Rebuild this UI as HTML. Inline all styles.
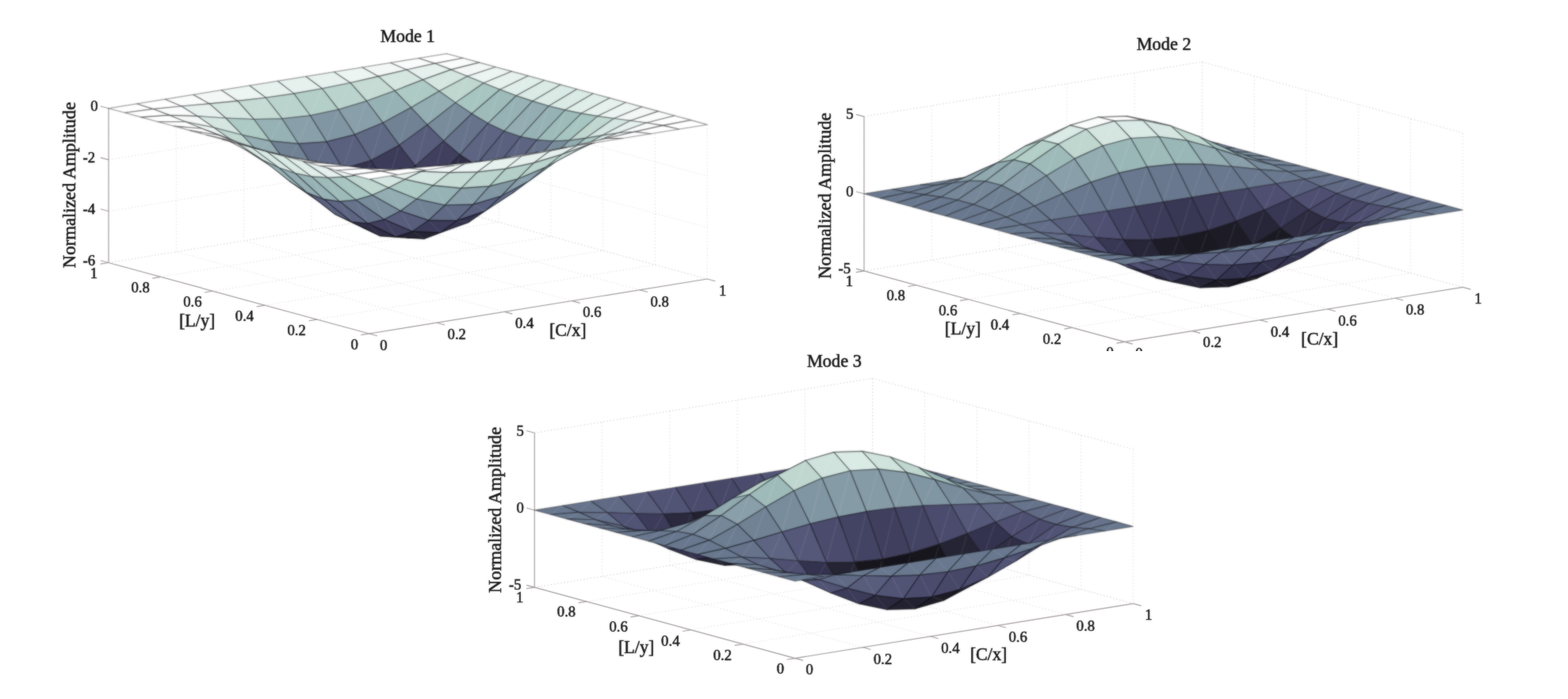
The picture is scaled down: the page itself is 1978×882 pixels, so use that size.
<!DOCTYPE html>
<html><head><meta charset="utf-8"><title>Mode shapes</title>
<style>
html,body{margin:0;padding:0;background:#fff;}
svg{display:block;}

text{font-family:"Liberation Serif",serif;fill:#151515;stroke:#151515;stroke-width:0.55px;}
.t{font-size:18.7px;}
.l{font-size:22.8px;}
.ti{font-size:22.4px;}
.sans{font-size:22.2px;}
.g{stroke:#dfd7d7;stroke-width:1;stroke-dasharray:1.2 3;fill:none;}
.a{stroke:#a39d9d;stroke-width:1.15;fill:none;}
.s path{stroke-width:1.15;stroke-linejoin:round;stroke-opacity:0.44;}
.s path.m{stroke:#fff;stroke-opacity:0.11;stroke-width:1;fill:none;}
</style></head>
<body>
<svg width="1978" height="882" viewBox="0 0 1978 882">
<defs>
<filter id="bg" x="-5%" y="-5%" width="110%" height="110%" color-interpolation-filters="sRGB"><feGaussianBlur stdDeviation="0.8" result="b"/><feComposite in="b" in2="SourceGraphic" operator="arithmetic" k1="0" k2="0.62" k3="0.38" k4="0"/></filter>
<filter id="bt" x="-5%" y="-5%" width="110%" height="110%" color-interpolation-filters="sRGB"><feGaussianBlur stdDeviation="0.8" result="b"/><feComposite in="b" in2="SourceGraphic" operator="arithmetic" k1="0" k2="0.4" k3="0.6" k4="0"/></filter>
<clipPath id="clip2"><rect x="0" y="0" width="1978" height="442.3"/></clipPath></defs>
<rect width="1978" height="882" fill="#fff"/>
<g><g filter="url(#bt)"><g><line class="g" x1="465.7" y1="421" x2="137" y2="331.5"/><line class="g" x1="465.7" y1="421" x2="892.2" y2="352"/><line class="g" x1="137" y1="331.5" x2="137" y2="136.7"/><line class="g" x1="892.2" y1="352" x2="892.2" y2="157.2"/><line class="g" x1="551" y1="407.2" x2="222.3" y2="317.7"/><line class="g" x1="399.96" y1="403.1" x2="826.46" y2="334.1"/><line class="g" x1="222.3" y1="317.7" x2="222.3" y2="122.9"/><line class="g" x1="826.46" y1="334.1" x2="826.46" y2="139.3"/><line class="g" x1="636.3" y1="393.4" x2="307.6" y2="303.9"/><line class="g" x1="334.22" y1="385.2" x2="760.72" y2="316.2"/><line class="g" x1="307.6" y1="303.9" x2="307.6" y2="109.1"/><line class="g" x1="760.72" y1="316.2" x2="760.72" y2="121.4"/><line class="g" x1="721.6" y1="379.6" x2="392.9" y2="290.1"/><line class="g" x1="268.48" y1="367.3" x2="694.98" y2="298.3"/><line class="g" x1="392.9" y1="290.1" x2="392.9" y2="95.3"/><line class="g" x1="694.98" y1="298.3" x2="694.98" y2="103.5"/><line class="g" x1="806.9" y1="365.8" x2="478.2" y2="276.3"/><line class="g" x1="202.74" y1="349.4" x2="629.24" y2="280.4"/><line class="g" x1="478.2" y1="276.3" x2="478.2" y2="81.5"/><line class="g" x1="629.24" y1="280.4" x2="629.24" y2="85.6"/><line class="g" x1="892.2" y1="352" x2="563.5" y2="262.5"/><line class="g" x1="137" y1="331.5" x2="563.5" y2="262.5"/><line class="g" x1="563.5" y1="262.5" x2="563.5" y2="67.7"/><line class="g" x1="563.5" y1="262.5" x2="563.5" y2="67.7"/><line class="g" x1="137" y1="331.5" x2="563.5" y2="262.5"/><line class="g" x1="563.5" y1="262.5" x2="892.2" y2="352"/><line class="g" x1="137" y1="266.57" x2="563.5" y2="197.57"/><line class="g" x1="563.5" y1="197.57" x2="892.2" y2="287.07"/><line class="g" x1="137" y1="201.63" x2="563.5" y2="132.63"/><line class="g" x1="563.5" y1="132.63" x2="892.2" y2="222.13"/><line class="g" x1="137" y1="136.7" x2="563.5" y2="67.7"/><line class="g" x1="563.5" y1="67.7" x2="892.2" y2="157.2"/><line class="g" x1="137" y1="136.7" x2="563.5" y2="67.7"/><line class="g" x1="563.5" y1="67.7" x2="892.2" y2="157.2"/></g>
<g><line class="a" x1="137" y1="331.5" x2="137" y2="136.7"/><line class="a" x1="137" y1="331.5" x2="465.7" y2="421"/><line class="a" x1="465.7" y1="421" x2="892.2" y2="352"/><line class="a" x1="465.7" y1="421" x2="475.83" y2="423.76"/><line class="a" x1="465.7" y1="421" x2="455.33" y2="422.68"/><line class="a" x1="551" y1="407.2" x2="561.13" y2="409.96"/><line class="a" x1="399.96" y1="403.1" x2="389.59" y2="404.78"/><line class="a" x1="636.3" y1="393.4" x2="646.43" y2="396.16"/><line class="a" x1="334.22" y1="385.2" x2="323.85" y2="386.88"/><line class="a" x1="721.6" y1="379.6" x2="731.73" y2="382.36"/><line class="a" x1="268.48" y1="367.3" x2="258.11" y2="368.98"/><line class="a" x1="806.9" y1="365.8" x2="817.03" y2="368.56"/><line class="a" x1="202.74" y1="349.4" x2="192.37" y2="351.08"/><line class="a" x1="892.2" y1="352" x2="902.33" y2="354.76"/><line class="a" x1="137" y1="331.5" x2="126.63" y2="333.18"/><line class="a" x1="137" y1="331.5" x2="126.87" y2="328.74"/><line class="a" x1="137" y1="266.57" x2="126.87" y2="263.81"/><line class="a" x1="137" y1="201.63" x2="126.87" y2="198.87"/><line class="a" x1="137" y1="136.7" x2="126.87" y2="133.94"/></g></g>
<g filter="url(#bg)"><g class="s" stroke="#050508"><path fill="#ffffff" d="M548.5 80.08L584.04 73.29L563.5 67.7L527.96 73.45Z"/><path class="m" d="M549.4 79.34L562.6 68.44"/><path fill="#f9fcfb" d="M512.96 88.05L548.5 80.08L527.96 73.45L492.42 79.2Z"/><path class="m" d="M513.86 87.18L527.06 74.33"/><path fill="#f3f8f6" d="M477.42 96.38L512.96 88.05L492.42 79.2L456.88 84.95Z"/><path class="m" d="M478.32 95.35L491.52 80.23"/><path fill="#ecf5f2" d="M441.88 104.44L477.42 96.38L456.88 84.95L421.33 90.7Z"/><path class="m" d="M442.78 103.27L455.98 86.12"/><path fill="#e6f1ee" d="M406.34 111.77L441.88 104.44L421.33 90.7L385.79 96.45Z"/><path class="m" d="M407.24 110.5L420.43 91.96"/><path fill="#e6f1ee" d="M370.79 118.08L406.34 111.77L385.79 96.45L350.25 102.2Z"/><path class="m" d="M371.69 116.78L384.89 97.75"/><path fill="#e6f1ee" d="M335.25 123.27L370.79 118.08L350.25 102.2L314.71 107.95Z"/><path class="m" d="M336.15 122L349.35 103.46"/><path fill="#ecf5f2" d="M299.71 127.44L335.25 123.27L314.71 107.95L279.17 113.7Z"/><path class="m" d="M300.61 126.27L313.81 109.12"/><path fill="#f3f8f6" d="M264.17 130.88L299.71 127.44L279.17 113.7L243.63 119.45Z"/><path class="m" d="M265.07 129.85L278.27 114.73"/><path fill="#f9fcfb" d="M228.63 134.05L264.17 130.88L243.63 119.45L208.08 125.2Z"/><path class="m" d="M229.53 133.18L242.73 120.33"/><path fill="#ffffff" d="M193.09 137.58L228.63 134.05L208.08 125.2L172.54 130.95Z"/><path class="m" d="M193.99 136.84L207.18 125.94"/><path fill="#ffffff" d="M157.54 142.29L193.09 137.58L172.54 130.95L137 136.7Z"/><path class="m" d="M158.44 141.61L171.64 131.63"/><path fill="#f9fcfb" d="M569.05 87.91L604.59 78.89L584.04 73.29L548.5 80.08Z"/><path class="m" d="M569.95 87.03L583.14 74.17"/><path fill="#e6f1ee" d="M533.5 100.64L569.05 87.91L548.5 80.08L512.96 88.05Z"/><path class="m" d="M534.4 99.41L547.6 81.32"/><path fill="#d5e6e1" d="M497.96 114.48L533.5 100.64L512.96 88.05L477.42 96.38Z"/><path class="m" d="M498.86 112.9L512.06 89.64"/><path fill="#c5dbd4" d="M462.42 127.5L497.96 114.48L477.42 96.38L441.88 104.44Z"/><path class="m" d="M463.32 125.63L476.52 98.24"/><path fill="#bad3cc" d="M426.88 138.22L462.42 127.5L441.88 104.44L406.34 111.77Z"/><path class="m" d="M427.78 136.19L440.98 106.46"/><path fill="#b4cfc8" d="M391.34 145.73L426.88 138.22L406.34 111.77L370.79 118.08Z"/><path class="m" d="M392.24 143.69L405.44 113.8"/><path fill="#bad3cc" d="M355.8 149.72L391.34 145.73L370.79 118.08L335.25 123.27Z"/><path class="m" d="M356.7 147.82L369.89 119.98"/><path fill="#c5dbd4" d="M320.25 150.5L355.8 149.72L335.25 123.27L299.71 127.44Z"/><path class="m" d="M321.15 148.86L334.35 124.9"/><path fill="#d5e6e1" d="M284.71 148.98L320.25 150.5L299.71 127.44L264.17 130.88Z"/><path class="m" d="M285.61 147.69L298.81 128.73"/><path fill="#e6f1ee" d="M249.17 146.64L284.71 148.98L264.17 130.88L228.63 134.05Z"/><path class="m" d="M250.07 145.69L263.27 131.82"/><path fill="#f9fcfb" d="M213.63 145.41L249.17 146.64L228.63 134.05L193.09 137.58Z"/><path class="m" d="M214.53 144.73L227.73 134.73"/><path fill="#ffffff" d="M178.09 147.89L213.63 145.41L193.09 137.58L157.54 142.29Z"/><path class="m" d="M178.99 147.27L192.19 138.2"/><path fill="#f3f8f6" d="M589.59 96.3L625.13 84.48L604.59 78.89L569.05 87.91Z"/><path class="m" d="M590.49 95.25L603.69 79.93"/><path fill="#d5e6e1" d="M554.05 114.97L589.59 96.3L569.05 87.91L533.5 100.64Z"/><path class="m" d="M554.95 113.34L568.15 89.54"/><path fill="#aecac4" d="M518.51 135.71L554.05 114.97L533.5 100.64L497.96 114.48Z"/><path class="m" d="M519.41 133.6L532.6 102.74"/><path fill="#97b2b5" d="M482.96 154.91L518.51 135.71L497.96 114.48L462.42 127.5Z"/><path class="m" d="M483.86 152.49L497.06 116.91"/><path fill="#899fa9" d="M447.42 169.87L482.96 154.91L462.42 127.5L426.88 138.22Z"/><path class="m" d="M448.32 167.33L461.52 130.04"/><path fill="#8196a3" d="M411.88 178.88L447.42 169.87L426.88 138.22L391.34 145.73Z"/><path class="m" d="M412.78 176.44L425.98 140.66"/><path fill="#899fa9" d="M376.34 181.37L411.88 178.88L391.34 145.73L355.8 149.72Z"/><path class="m" d="M377.24 179.23L390.44 147.87"/><path fill="#97b2b5" d="M340.8 177.91L376.34 181.37L355.8 149.72L320.25 150.5Z"/><path class="m" d="M341.7 176.22L354.9 151.41"/><path fill="#aecac4" d="M305.26 170.21L340.8 177.91L320.25 150.5L284.71 148.98Z"/><path class="m" d="M306.16 169.02L319.35 151.68"/><path fill="#d5e6e1" d="M269.71 160.97L305.26 170.21L284.71 148.98L249.17 146.64Z"/><path class="m" d="M270.61 160.25L283.81 149.7"/><path fill="#f3f8f6" d="M234.17 153.8L269.71 160.97L249.17 146.64L213.63 145.41Z"/><path class="m" d="M235.07 153.37L248.27 147.07"/><path fill="#ffffff" d="M198.63 153.48L234.17 153.8L213.63 145.41L178.09 147.89Z"/><path class="m" d="M199.53 153L212.73 145.9"/><path fill="#ecf5f2" d="M610.13 104.79L645.68 90.08L625.13 84.48L589.59 96.3Z"/><path class="m" d="M611.03 103.57L624.23 85.7"/><path fill="#c0d7d0" d="M574.59 129.63L610.13 104.79L589.59 96.3L554.05 114.97Z"/><path class="m" d="M575.49 127.63L588.69 98.3"/><path fill="#93adb2" d="M539.05 157.53L574.59 129.63L554.05 114.97L518.51 135.71Z"/><path class="m" d="M539.95 154.98L553.15 117.52"/><path fill="#718295" d="M503.51 183.16L539.05 157.53L518.51 135.71L482.96 154.91Z"/><path class="m" d="M504.41 180.32L517.61 138.55"/><path fill="#606a85" d="M467.97 202.52L503.51 183.16L482.96 154.91L447.42 169.87Z"/><path class="m" d="M468.87 199.67L482.06 157.77"/><path fill="#5a617f" d="M432.43 213.1L467.97 202.52L447.42 169.87L411.88 178.88Z"/><path class="m" d="M433.32 210.5L446.52 172.46"/><path fill="#606a85" d="M396.88 214.02L432.43 213.1L411.88 178.88L376.34 181.37Z"/><path class="m" d="M397.78 211.91L410.98 180.99"/><path fill="#718295" d="M361.34 206.16L396.88 214.02L376.34 181.37L340.8 177.91Z"/><path class="m" d="M362.24 204.68L375.44 182.86"/><path fill="#93adb2" d="M325.8 192.03L361.34 206.16L340.8 177.91L305.26 170.21Z"/><path class="m" d="M326.7 191.19L339.9 178.76"/><path fill="#c0d7d0" d="M290.26 175.63L325.8 192.03L305.26 170.21L269.71 160.97Z"/><path class="m" d="M291.16 175.3L304.36 170.53"/><path fill="#ecf5f2" d="M254.72 162.29L290.26 175.63L269.71 160.97L234.17 153.8Z"/><path class="m" d="M255.62 162.21L268.81 161.05"/><path fill="#ffffff" d="M219.18 159.07L254.72 162.29L234.17 153.8L198.63 153.48Z"/><path class="m" d="M220.07 158.76L233.27 154.11"/><path fill="#e6f1ee" d="M630.68 113.02L666.22 95.67L645.68 90.08L610.13 104.79Z"/><path class="m" d="M631.58 111.65L644.78 91.45"/><path fill="#a7c5c1" d="M595.14 143.5L630.68 113.02L610.13 104.79L574.59 129.63Z"/><path class="m" d="M596.04 141.17L609.23 107.11"/><path fill="#798c9c" d="M559.59 177.93L595.14 143.5L574.59 129.63L539.05 157.53Z"/><path class="m" d="M560.49 175.03L573.69 132.53"/><path fill="#585d7c" d="M524.05 209.42L559.59 177.93L539.05 157.53L503.51 183.16Z"/><path class="m" d="M524.95 206.31L538.15 160.65"/><path fill="#3c3b59" d="M488.51 232.8L524.05 209.42L503.51 183.16L467.97 202.52Z"/><path class="m" d="M489.41 229.82L502.61 186.14"/><path fill="#34334f" d="M452.97 244.79L488.51 232.8L467.97 202.52L432.43 213.1Z"/><path class="m" d="M453.87 242.26L467.07 205.06"/><path fill="#3c3b59" d="M417.43 244.3L452.97 244.79L432.43 213.1L396.88 214.02Z"/><path class="m" d="M418.33 242.42L431.53 214.97"/><path fill="#585d7c" d="M381.89 232.42L417.43 244.3L396.88 214.02L361.34 206.16Z"/><path class="m" d="M382.79 231.32L395.98 215.13"/><path fill="#798c9c" d="M346.34 212.43L381.89 232.42L361.34 206.16L325.8 192.03Z"/><path class="m" d="M347.24 212.05L360.44 206.54"/><path fill="#a7c5c1" d="M310.8 189.5L346.34 212.43L325.8 192.03L290.26 175.63Z"/><path class="m" d="M311.7 189.65L324.9 191.88"/><path fill="#e6f1ee" d="M275.26 170.52L310.8 189.5L290.26 175.63L254.72 162.29Z"/><path class="m" d="M276.16 170.83L289.36 175.32"/><path fill="#ffffff" d="M239.72 164.67L275.26 170.52L254.72 162.29L219.18 159.07Z"/><path class="m" d="M240.62 164.53L253.82 162.43"/><path fill="#e0eee9" d="M651.22 120.72L686.76 101.26L666.22 95.67L630.68 113.02Z"/><path class="m" d="M652.12 119.21L665.32 97.17"/><path fill="#9ebbba" d="M615.68 155.66L651.22 120.72L630.68 113.02L595.14 143.5Z"/><path class="m" d="M616.58 153.1L629.78 115.58"/><path fill="#66738b" d="M580.14 195.29L615.68 155.66L595.14 143.5L559.59 177.93Z"/><path class="m" d="M581.04 192.18L594.24 146.6"/><path fill="#403f5e" d="M544.6 231.44L580.14 195.29L559.59 177.93L524.05 209.42Z"/><path class="m" d="M545.5 228.23L558.69 181.14"/><path fill="#252434" d="M509.05 258L544.6 231.44L524.05 209.42L488.51 232.8Z"/><path class="m" d="M509.95 255.09L523.15 212.34"/><path fill="#1d1c26" d="M473.51 271.13L509.05 258L488.51 232.8L452.97 244.79Z"/><path class="m" d="M474.41 268.83L487.61 235.1"/><path fill="#252434" d="M437.97 269.5L473.51 271.13L452.97 244.79L417.43 244.3Z"/><path class="m" d="M438.87 268.02L452.07 246.27"/><path fill="#403f5e" d="M402.43 254.44L437.97 269.5L417.43 244.3L381.89 232.42Z"/><path class="m" d="M403.33 253.83L416.53 244.91"/><path fill="#66738b" d="M366.89 229.79L402.43 254.44L381.89 232.42L346.34 212.43Z"/><path class="m" d="M367.79 229.95L380.99 232.27"/><path fill="#9ebbba" d="M331.35 201.66L366.89 229.79L346.34 212.43L310.8 189.5Z"/><path class="m" d="M332.25 202.31L345.44 211.78"/><path fill="#e0eee9" d="M295.8 178.22L331.35 201.66L310.8 189.5L275.26 170.52Z"/><path class="m" d="M296.7 178.89L309.9 188.82"/><path fill="#ffffff" d="M260.26 170.26L295.8 178.22L275.26 170.52L239.72 164.67Z"/><path class="m" d="M261.16 170.28L274.36 170.51"/><path fill="#daeae5" d="M671.76 127.66L707.31 106.86L686.76 101.26L651.22 120.72Z"/><path class="m" d="M672.66 126.07L685.86 102.85"/><path fill="#97b2b5" d="M636.22 165.47L671.76 127.66L651.22 120.72L615.68 155.66Z"/><path class="m" d="M637.12 162.79L650.32 123.4"/><path fill="#5d6582" d="M600.68 208.43L636.22 165.47L615.68 155.66L580.14 195.29Z"/><path class="m" d="M601.58 205.26L614.78 158.83"/><path fill="#2f2e46" d="M565.14 247.57L600.68 208.43L580.14 195.29L544.6 231.44Z"/><path class="m" d="M566.04 244.43L579.24 198.43"/><path fill="#17161d" d="M529.6 276.17L565.14 247.57L544.6 231.44L509.05 258Z"/><path class="m" d="M530.5 273.49L543.7 234.13"/><path fill="#0b0b13" d="M494.06 290.02L529.6 276.17L509.05 258L473.51 271.13Z"/><path class="m" d="M494.96 288.1L508.15 259.92"/><path fill="#17161d" d="M458.51 287.67L494.06 290.02L473.51 271.13L437.97 269.5Z"/><path class="m" d="M459.41 286.68L472.61 272.12"/><path fill="#2f2e46" d="M422.97 270.57L458.51 287.67L437.97 269.5L402.43 254.44Z"/><path class="m" d="M423.87 270.5L437.07 269.57"/><path fill="#5d6582" d="M387.43 242.93L422.97 270.57L402.43 254.44L366.89 229.79Z"/><path class="m" d="M388.33 243.62L401.53 253.75"/><path fill="#97b2b5" d="M351.89 211.47L387.43 242.93L366.89 229.79L331.35 201.66Z"/><path class="m" d="M352.79 212.57L365.99 228.69"/><path fill="#daeae5" d="M316.35 185.16L351.89 211.47L331.35 201.66L295.8 178.22Z"/><path class="m" d="M317.25 186.15L330.45 200.67"/><path fill="#ffffff" d="M280.81 175.86L316.35 185.16L295.8 178.22L260.26 170.26Z"/><path class="m" d="M281.71 176L294.9 178.08"/><path fill="#daeae5" d="M692.31 133.71L727.85 112.45L707.31 106.86L671.76 127.66Z"/><path class="m" d="M693.21 132.1L706.41 108.47"/><path fill="#93adb2" d="M656.77 172.52L692.31 133.71L671.76 127.66L636.22 165.47Z"/><path class="m" d="M657.67 169.82L670.86 130.35"/><path fill="#5a617f" d="M621.23 216.62L656.77 172.52L636.22 165.47L600.68 208.43Z"/><path class="m" d="M622.12 213.55L635.32 168.54"/><path fill="#2d2c41" d="M585.68 256.78L621.23 216.62L600.68 208.43L565.14 247.57Z"/><path class="m" d="M586.58 253.88L599.78 211.33"/><path fill="#111118" d="M550.14 286.09L585.68 256.78L565.14 247.57L529.6 276.17Z"/><path class="m" d="M551.04 283.78L564.24 249.88"/><path fill="#080810" d="M514.6 300.19L550.14 286.09L529.6 276.17L494.06 290.02Z"/><path class="m" d="M515.5 298.75L528.7 277.61"/><path fill="#111118" d="M479.06 297.59L514.6 300.19L494.06 290.02L458.51 287.67Z"/><path class="m" d="M479.96 297.14L493.16 290.48"/><path fill="#2d2c41" d="M443.52 279.78L479.06 297.59L458.51 287.67L422.97 270.57Z"/><path class="m" d="M444.42 280.26L457.61 287.2"/><path fill="#5a617f" d="M407.98 251.12L443.52 279.78L422.97 270.57L387.43 242.93Z"/><path class="m" d="M408.87 252.28L422.07 269.4"/><path fill="#93adb2" d="M372.43 218.52L407.98 251.12L387.43 242.93L351.89 211.47Z"/><path class="m" d="M373.33 219.98L386.53 241.46"/><path fill="#daeae5" d="M336.89 191.21L372.43 218.52L351.89 211.47L316.35 185.16Z"/><path class="m" d="M337.79 192.43L350.99 210.26"/><path fill="#ffffff" d="M301.35 181.45L336.89 191.21L316.35 185.16L280.81 175.86Z"/><path class="m" d="M302.25 181.67L315.45 184.93"/><path fill="#daeae5" d="M712.85 138.84L748.39 118.04L727.85 112.45L692.31 133.71Z"/><path class="m" d="M713.75 137.26L726.95 114.03"/><path fill="#97b2b5" d="M677.31 176.66L712.85 138.84L692.31 133.71L656.77 172.52Z"/><path class="m" d="M678.21 174.08L691.41 136.29"/><path fill="#5d6582" d="M641.77 219.61L677.31 176.66L656.77 172.52L621.23 216.62Z"/><path class="m" d="M642.67 216.79L655.87 175.34"/><path fill="#2f2e46" d="M606.23 258.75L641.77 219.61L621.23 216.62L585.68 256.78Z"/><path class="m" d="M607.13 256.23L620.33 219.14"/><path fill="#17161d" d="M570.69 287.36L606.23 258.75L585.68 256.78L550.14 286.09Z"/><path class="m" d="M571.59 285.53L584.78 258.62"/><path fill="#0b0b13" d="M535.14 301.21L570.69 287.36L550.14 286.09L514.6 300.19Z"/><path class="m" d="M536.04 300.3L549.24 287"/><path fill="#17161d" d="M499.6 298.86L535.14 301.21L514.6 300.19L479.06 297.59Z"/><path class="m" d="M500.5 298.94L513.7 300.11"/><path fill="#2f2e46" d="M464.06 281.75L499.6 298.86L479.06 297.59L443.52 279.78Z"/><path class="m" d="M464.96 282.7L478.16 296.64"/><path fill="#5d6582" d="M428.52 254.11L464.06 281.75L443.52 279.78L407.98 251.12Z"/><path class="m" d="M429.42 255.65L442.62 278.24"/><path fill="#97b2b5" d="M392.98 222.66L428.52 254.11L407.98 251.12L372.43 218.52Z"/><path class="m" d="M393.88 224.37L407.08 249.41"/><path fill="#daeae5" d="M357.44 196.34L392.98 222.66L372.43 218.52L336.89 191.21Z"/><path class="m" d="M358.34 197.67L371.53 217.19"/><path fill="#ffffff" d="M321.89 187.04L357.44 196.34L336.89 191.21L301.35 181.45Z"/><path class="m" d="M322.79 187.29L335.99 190.96"/><path fill="#e0eee9" d="M733.4 143.09L768.94 123.64L748.39 118.04L712.85 138.84Z"/><path class="m" d="M734.3 141.59L747.49 119.55"/><path fill="#9ebbba" d="M697.85 178.04L733.4 143.09L712.85 138.84L677.31 176.66Z"/><path class="m" d="M698.75 175.69L711.95 141.2"/><path fill="#66738b" d="M662.31 217.66L697.85 178.04L677.31 176.66L641.77 219.61Z"/><path class="m" d="M663.21 215.2L676.41 179.12"/><path fill="#403f5e" d="M626.77 253.82L662.31 217.66L641.77 219.61L606.23 258.75Z"/><path class="m" d="M627.67 251.77L640.87 221.67"/><path fill="#252434" d="M591.23 280.38L626.77 253.82L606.23 258.75L570.69 287.36Z"/><path class="m" d="M592.13 279.08L605.33 260.05"/><path fill="#1d1c26" d="M555.69 293.5L591.23 280.38L570.69 287.36L535.14 301.21Z"/><path class="m" d="M556.59 293.13L569.79 287.73"/><path fill="#252434" d="M520.15 291.88L555.69 293.5L535.14 301.21L499.6 298.86Z"/><path class="m" d="M521.05 292.44L534.24 300.65"/><path fill="#403f5e" d="M484.6 276.82L520.15 291.88L499.6 298.86L464.06 281.75Z"/><path class="m" d="M485.5 278.14L498.7 297.54"/><path fill="#66738b" d="M449.06 252.16L484.6 276.82L464.06 281.75L428.52 254.11Z"/><path class="m" d="M449.96 253.94L463.16 279.98"/><path fill="#9ebbba" d="M413.52 224.04L449.06 252.16L428.52 254.11L392.98 222.66Z"/><path class="m" d="M414.42 225.84L427.62 252.31"/><path fill="#e0eee9" d="M377.98 200.59L413.52 224.04L392.98 222.66L357.44 196.34Z"/><path class="m" d="M378.88 201.92L392.08 221.34"/><path fill="#ffffff" d="M342.44 192.64L377.98 200.59L357.44 196.34L321.89 187.04Z"/><path class="m" d="M343.34 192.86L356.54 196.12"/><path fill="#e6f1ee" d="M753.94 146.59L789.48 129.23L768.94 123.64L733.4 143.09Z"/><path class="m" d="M754.84 145.21L768.04 125.01"/><path fill="#a7c5c1" d="M718.4 177.06L753.94 146.59L733.4 143.09L697.85 178.04Z"/><path class="m" d="M719.3 175.02L732.5 145.13"/><path fill="#798c9c" d="M682.86 211.49L718.4 177.06L697.85 178.04L662.31 217.66Z"/><path class="m" d="M683.76 209.49L696.95 180.05"/><path fill="#585d7c" d="M647.31 242.99L682.86 211.49L662.31 217.66L626.77 253.82Z"/><path class="m" d="M648.21 241.47L661.41 219.18"/><path fill="#3c3b59" d="M611.77 266.36L647.31 242.99L626.77 253.82L591.23 280.38Z"/><path class="m" d="M612.67 265.61L625.87 254.57"/><path fill="#34334f" d="M576.23 278.35L611.77 266.36L591.23 280.38L555.69 293.5Z"/><path class="m" d="M577.13 278.48L590.33 280.26"/><path fill="#3c3b59" d="M540.69 277.86L576.23 278.35L555.69 293.5L520.15 291.88Z"/><path class="m" d="M541.59 278.8L554.79 292.56"/><path fill="#585d7c" d="M505.15 265.99L540.69 277.86L520.15 291.88L484.6 276.82Z"/><path class="m" d="M506.05 267.54L519.25 290.32"/><path fill="#798c9c" d="M469.61 245.99L505.15 265.99L484.6 276.82L449.06 252.16Z"/><path class="m" d="M470.51 247.84L483.7 274.97"/><path fill="#a7c5c1" d="M434.06 223.06L469.61 245.99L449.06 252.16L413.52 224.04Z"/><path class="m" d="M434.96 224.8L448.16 250.42"/><path fill="#e6f1ee" d="M398.52 204.09L434.06 223.06L413.52 224.04L377.98 200.59Z"/><path class="m" d="M399.42 205.28L412.62 222.84"/><path fill="#ffffff" d="M362.98 198.23L398.52 204.09L377.98 200.59L342.44 192.64Z"/><path class="m" d="M363.88 198.37L377.08 200.45"/><path fill="#ecf5f2" d="M774.48 149.54L810.03 134.83L789.48 129.23L753.94 146.59Z"/><path class="m" d="M775.38 148.32L788.58 130.45"/><path fill="#c0d7d0" d="M738.94 174.38L774.48 149.54L753.94 146.59L718.4 177.06Z"/><path class="m" d="M739.84 172.71L753.04 148.25"/><path fill="#93adb2" d="M703.4 202.28L738.94 174.38L718.4 177.06L682.86 211.49Z"/><path class="m" d="M704.3 200.77L717.5 178.57"/><path fill="#718295" d="M667.86 227.91L703.4 202.28L682.86 211.49L647.31 242.99Z"/><path class="m" d="M668.76 226.93L681.96 212.48"/><path fill="#606a85" d="M632.32 247.27L667.86 227.91L647.31 242.99L611.77 266.36Z"/><path class="m" d="M633.22 247.02L646.41 243.24"/><path fill="#5a617f" d="M596.78 257.85L632.32 247.27L611.77 266.36L576.23 278.35Z"/><path class="m" d="M597.67 258.36L610.87 265.85"/><path fill="#606a85" d="M561.23 258.77L596.78 257.85L576.23 278.35L540.69 277.86Z"/><path class="m" d="M562.13 259.95L575.33 277.18"/><path fill="#718295" d="M525.69 250.91L561.23 258.77L540.69 277.86L505.15 265.99Z"/><path class="m" d="M526.59 252.53L539.79 276.24"/><path fill="#93adb2" d="M490.15 236.78L525.69 250.91L505.15 265.99L469.61 245.99Z"/><path class="m" d="M491.05 238.54L504.25 264.23"/><path fill="#c0d7d0" d="M454.61 220.38L490.15 236.78L469.61 245.99L434.06 223.06Z"/><path class="m" d="M455.51 221.92L468.71 244.46"/><path fill="#ecf5f2" d="M419.07 207.04L454.61 220.38L434.06 223.06L398.52 204.09Z"/><path class="m" d="M419.97 208L433.16 222.1"/><path fill="#ffffff" d="M383.52 203.82L419.07 207.04L398.52 204.09L362.98 198.23Z"/><path class="m" d="M384.42 203.84L397.62 204.07"/><path fill="#f3f8f6" d="M795.03 152.23L830.57 140.42L810.03 134.83L774.48 149.54Z"/><path class="m" d="M795.93 151.19L809.13 135.87"/><path fill="#d5e6e1" d="M759.49 170.9L795.03 152.23L774.48 149.54L738.94 174.38Z"/><path class="m" d="M760.39 169.62L773.58 150.82"/><path fill="#aecac4" d="M723.94 191.64L759.49 170.9L738.94 174.38L703.4 202.28Z"/><path class="m" d="M724.84 190.61L738.04 175.42"/><path fill="#97b2b5" d="M688.4 210.85L723.94 191.64L703.4 202.28L667.86 227.91Z"/><path class="m" d="M689.3 210.33L702.5 202.8"/><path fill="#899fa9" d="M652.86 225.81L688.4 210.85L667.86 227.91L632.32 247.27Z"/><path class="m" d="M653.76 225.93L666.96 227.79"/><path fill="#8196a3" d="M617.32 234.82L652.86 225.81L632.32 247.27L596.78 257.85Z"/><path class="m" d="M618.22 235.57L631.42 246.53"/><path fill="#899fa9" d="M581.78 237.31L617.32 234.82L596.78 257.85L561.23 258.77Z"/><path class="m" d="M582.68 238.54L595.88 256.61"/><path fill="#97b2b5" d="M546.24 233.85L581.78 237.31L561.23 258.77L525.69 250.91Z"/><path class="m" d="M547.14 235.34L560.33 257.28"/><path fill="#aecac4" d="M510.69 226.14L546.24 233.85L525.69 250.91L490.15 236.78Z"/><path class="m" d="M511.59 227.63L524.79 249.43"/><path fill="#d5e6e1" d="M475.15 216.9L510.69 226.14L490.15 236.78L454.61 220.38Z"/><path class="m" d="M476.05 218.1L489.25 235.59"/><path fill="#f3f8f6" d="M439.61 209.73L475.15 216.9L454.61 220.38L419.07 207.04Z"/><path class="m" d="M440.51 210.37L453.71 219.74"/><path fill="#ffffff" d="M404.07 209.42L439.61 209.73L419.07 207.04L383.52 203.82Z"/><path class="m" d="M404.97 209.28L418.17 207.18"/><path fill="#f9fcfb" d="M815.57 155.04L851.11 146.01L830.57 140.42L795.03 152.23Z"/><path class="m" d="M816.47 154.16L829.67 141.3"/><path fill="#e6f1ee" d="M780.03 167.76L815.57 155.04L795.03 152.23L759.49 170.9Z"/><path class="m" d="M780.93 166.83L794.13 153.17"/><path fill="#d5e6e1" d="M744.49 181.61L780.03 167.76L759.49 170.9L723.94 191.64Z"/><path class="m" d="M745.39 180.97L758.59 171.55"/><path fill="#c5dbd4" d="M708.95 194.62L744.49 181.61L723.94 191.64L688.4 210.85Z"/><path class="m" d="M709.85 194.44L723.04 191.82"/><path fill="#bad3cc" d="M673.4 205.34L708.95 194.62L688.4 210.85L652.86 225.81Z"/><path class="m" d="M674.3 205.68L687.5 210.52"/><path fill="#b4cfc8" d="M637.86 212.86L673.4 205.34L652.86 225.81L617.32 234.82Z"/><path class="m" d="M638.76 213.63L651.96 225.03"/><path fill="#bad3cc" d="M602.32 216.84L637.86 212.86L617.32 234.82L581.78 237.31Z"/><path class="m" d="M603.22 217.92L616.42 233.74"/><path fill="#c5dbd4" d="M566.78 217.62L602.32 216.84L581.78 237.31L546.24 233.85Z"/><path class="m" d="M567.68 218.8L580.88 236.13"/><path fill="#d5e6e1" d="M531.24 216.11L566.78 217.62L546.24 233.85L510.69 226.14Z"/><path class="m" d="M532.14 217.17L545.34 232.78"/><path fill="#e6f1ee" d="M495.7 213.76L531.24 216.11L510.69 226.14L475.15 216.9Z"/><path class="m" d="M496.6 214.51L509.79 225.4"/><path fill="#f9fcfb" d="M460.15 212.54L495.7 213.76L475.15 216.9L439.61 209.73Z"/><path class="m" d="M461.05 212.8L474.25 216.64"/><path fill="#ffffff" d="M424.61 215.01L460.15 212.54L439.61 209.73L404.07 209.42Z"/><path class="m" d="M425.51 214.7L438.71 210.05"/><path fill="#ffffff" d="M836.11 158.4L871.66 151.61L851.11 146.01L815.57 155.04Z"/><path class="m" d="M837.01 157.65L850.21 146.76"/><path fill="#f9fcfb" d="M800.57 166.37L836.11 158.4L815.57 155.04L780.03 167.76Z"/><path class="m" d="M801.47 165.69L814.67 155.72"/><path fill="#f3f8f6" d="M765.03 174.69L800.57 166.37L780.03 167.76L744.49 181.61Z"/><path class="m" d="M765.93 174.27L779.13 168.18"/><path fill="#ecf5f2" d="M729.49 182.75L765.03 174.69L744.49 181.61L708.95 194.62Z"/><path class="m" d="M730.39 182.68L743.59 181.68"/><path fill="#e6f1ee" d="M693.95 190.08L729.49 182.75L708.95 194.62L673.4 205.34Z"/><path class="m" d="M694.85 190.35L708.05 194.35"/><path fill="#e6f1ee" d="M658.41 196.39L693.95 190.08L673.4 205.34L637.86 212.86Z"/><path class="m" d="M659.31 196.93L672.5 204.81"/><path fill="#e6f1ee" d="M622.86 201.58L658.41 196.39L637.86 212.86L602.32 216.84Z"/><path class="m" d="M623.76 202.26L636.96 212.18"/><path fill="#ecf5f2" d="M587.32 205.75L622.86 201.58L602.32 216.84L566.78 217.62Z"/><path class="m" d="M588.22 206.41L601.42 216.18"/><path fill="#f3f8f6" d="M551.78 209.19L587.32 205.75L566.78 217.62L531.24 216.11Z"/><path class="m" d="M552.68 209.69L565.88 217.12"/><path fill="#f9fcfb" d="M516.24 212.37L551.78 209.19L531.24 216.11L495.7 213.76Z"/><path class="m" d="M517.14 212.59L530.34 215.88"/><path fill="#ffffff" d="M480.7 215.9L516.24 212.37L495.7 213.76L460.15 212.54Z"/><path class="m" d="M481.6 215.77L494.8 213.89"/><path fill="#ffffff" d="M445.16 220.61L480.7 215.9L460.15 212.54L424.61 215.01Z"/><path class="m" d="M446.06 220.12L459.25 213.02"/><path fill="#ffffff" d="M856.66 162.95L892.2 157.2L871.66 151.61L836.11 158.4Z"/><path class="m" d="M857.56 162.27L870.76 152.29"/><path fill="#ffffff" d="M821.12 168.7L856.66 162.95L836.11 158.4L800.57 166.37Z"/><path class="m" d="M822.02 168.08L835.21 159.02"/><path fill="#ffffff" d="M785.58 174.45L821.12 168.7L800.57 166.37L765.03 174.69Z"/><path class="m" d="M786.47 173.96L799.67 166.85"/><path fill="#ffffff" d="M750.03 180.2L785.58 174.45L765.03 174.69L729.49 182.75Z"/><path class="m" d="M750.93 179.87L764.13 175.02"/><path fill="#ffffff" d="M714.49 185.95L750.03 180.2L729.49 182.75L693.95 190.08Z"/><path class="m" d="M715.39 185.76L728.59 182.94"/><path fill="#ffffff" d="M678.95 191.7L714.49 185.95L693.95 190.08L658.41 196.39Z"/><path class="m" d="M679.85 191.6L693.05 190.18"/><path fill="#ffffff" d="M643.41 197.45L678.95 191.7L658.41 196.39L622.86 201.58Z"/><path class="m" d="M644.31 197.39L657.51 196.45"/><path fill="#ffffff" d="M607.87 203.2L643.41 197.45L622.86 201.58L587.32 205.75Z"/><path class="m" d="M608.77 203.1L621.96 201.68"/><path fill="#ffffff" d="M572.33 208.95L607.87 203.2L587.32 205.75L551.78 209.19Z"/><path class="m" d="M573.22 208.76L586.42 205.94"/><path fill="#ffffff" d="M536.78 214.7L572.33 208.95L551.78 209.19L516.24 212.37Z"/><path class="m" d="M537.68 214.37L550.88 209.52"/><path fill="#ffffff" d="M501.24 220.45L536.78 214.7L516.24 212.37L480.7 215.9Z"/><path class="m" d="M502.14 219.96L515.34 212.85"/><path fill="#ffffff" d="M465.7 226.2L501.24 220.45L480.7 215.9L445.16 220.61Z"/><path class="m" d="M466.6 225.58L479.8 216.52"/></g></g>
<g filter="url(#bt)"><text class="t" x="118.3" y="350.67" text-anchor="middle">1</text><text class="t" x="177.2" y="368.87" text-anchor="middle">0.8</text><text class="t" x="242.9" y="387.37" text-anchor="middle">0.6</text><text class="t" x="308.5" y="405.37" text-anchor="middle">0.4</text><text class="t" x="374.1" y="423.37" text-anchor="middle">0.2</text><text class="t" x="447.1" y="440.77" text-anchor="middle">0</text><text class="t" x="479.3" y="441.87" text-anchor="start">0</text><text class="t" x="564.6" y="428.07" text-anchor="start">0.2</text><text class="t" x="649.9" y="414.27" text-anchor="start">0.4</text><text class="t" x="735.2" y="400.47" text-anchor="start">0.6</text><text class="t" x="820.5" y="386.67" text-anchor="start">0.8</text><text class="t" x="907" y="372.87" text-anchor="start">1</text><text class="t" x="120.2" y="334.87" text-anchor="end">-6</text><text class="t" x="120.2" y="269.94" text-anchor="end">-4</text><text class="t" x="120.2" y="205" text-anchor="end">-2</text><text class="t" x="123.5" y="140.07" text-anchor="end">0</text><text class="sans" x="248.7" y="412.4" text-anchor="middle">[L/y]</text><text class="sans" x="716.3" y="423.7" text-anchor="middle">[C/x]</text><text class="l" transform="translate(95 233.5) rotate(-90)" text-anchor="middle">Normalized Amplitude</text><text class="l ti" x="514.3" y="53.1" text-anchor="middle">Mode 1</text></g></g>
<g clip-path="url(#clip2)"><g><g filter="url(#bt)"><g><line class="g" x1="1418.7" y1="431.4" x2="1090" y2="341.9"/><line class="g" x1="1418.7" y1="431.4" x2="1845.2" y2="362.4"/><line class="g" x1="1090" y1="341.9" x2="1090" y2="147.1"/><line class="g" x1="1845.2" y1="362.4" x2="1845.2" y2="167.6"/><line class="g" x1="1504" y1="417.6" x2="1175.3" y2="328.1"/><line class="g" x1="1352.96" y1="413.5" x2="1779.46" y2="344.5"/><line class="g" x1="1175.3" y1="328.1" x2="1175.3" y2="133.3"/><line class="g" x1="1779.46" y1="344.5" x2="1779.46" y2="149.7"/><line class="g" x1="1589.3" y1="403.8" x2="1260.6" y2="314.3"/><line class="g" x1="1287.22" y1="395.6" x2="1713.72" y2="326.6"/><line class="g" x1="1260.6" y1="314.3" x2="1260.6" y2="119.5"/><line class="g" x1="1713.72" y1="326.6" x2="1713.72" y2="131.8"/><line class="g" x1="1674.6" y1="390" x2="1345.9" y2="300.5"/><line class="g" x1="1221.48" y1="377.7" x2="1647.98" y2="308.7"/><line class="g" x1="1345.9" y1="300.5" x2="1345.9" y2="105.7"/><line class="g" x1="1647.98" y1="308.7" x2="1647.98" y2="113.9"/><line class="g" x1="1759.9" y1="376.2" x2="1431.2" y2="286.7"/><line class="g" x1="1155.74" y1="359.8" x2="1582.24" y2="290.8"/><line class="g" x1="1431.2" y1="286.7" x2="1431.2" y2="91.9"/><line class="g" x1="1582.24" y1="290.8" x2="1582.24" y2="96"/><line class="g" x1="1845.2" y1="362.4" x2="1516.5" y2="272.9"/><line class="g" x1="1090" y1="341.9" x2="1516.5" y2="272.9"/><line class="g" x1="1516.5" y1="272.9" x2="1516.5" y2="78.1"/><line class="g" x1="1516.5" y1="272.9" x2="1516.5" y2="78.1"/><line class="g" x1="1090" y1="341.9" x2="1516.5" y2="272.9"/><line class="g" x1="1516.5" y1="272.9" x2="1845.2" y2="362.4"/><line class="g" x1="1090" y1="244.5" x2="1516.5" y2="175.5"/><line class="g" x1="1516.5" y1="175.5" x2="1845.2" y2="265"/><line class="g" x1="1090" y1="147.1" x2="1516.5" y2="78.1"/><line class="g" x1="1516.5" y1="78.1" x2="1845.2" y2="167.6"/><line class="g" x1="1090" y1="147.1" x2="1516.5" y2="78.1"/><line class="g" x1="1516.5" y1="78.1" x2="1845.2" y2="167.6"/></g>
<g><line class="a" x1="1090" y1="341.9" x2="1090" y2="147.1"/><line class="a" x1="1090" y1="341.9" x2="1418.7" y2="431.4"/><line class="a" x1="1418.7" y1="431.4" x2="1845.2" y2="362.4"/><line class="a" x1="1418.7" y1="431.4" x2="1428.83" y2="434.16"/><line class="a" x1="1418.7" y1="431.4" x2="1408.33" y2="433.08"/><line class="a" x1="1504" y1="417.6" x2="1514.13" y2="420.36"/><line class="a" x1="1352.96" y1="413.5" x2="1342.59" y2="415.18"/><line class="a" x1="1589.3" y1="403.8" x2="1599.43" y2="406.56"/><line class="a" x1="1287.22" y1="395.6" x2="1276.85" y2="397.28"/><line class="a" x1="1674.6" y1="390" x2="1684.73" y2="392.76"/><line class="a" x1="1221.48" y1="377.7" x2="1211.11" y2="379.38"/><line class="a" x1="1759.9" y1="376.2" x2="1770.03" y2="378.96"/><line class="a" x1="1155.74" y1="359.8" x2="1145.37" y2="361.48"/><line class="a" x1="1845.2" y1="362.4" x2="1855.33" y2="365.16"/><line class="a" x1="1090" y1="341.9" x2="1079.63" y2="343.58"/><line class="a" x1="1090" y1="341.9" x2="1079.87" y2="339.14"/><line class="a" x1="1090" y1="244.5" x2="1079.87" y2="241.74"/><line class="a" x1="1090" y1="147.1" x2="1079.87" y2="144.34"/></g></g>
<g filter="url(#bg)"><g class="s" stroke="#050508"><path fill="#69788e" d="M1501.5 185.22L1537.04 181.09L1516.5 175.5L1480.96 181.25Z"/><path class="m" d="M1502.4 184.64L1515.6 176.08"/><path fill="#6d7d91" d="M1465.96 187.51L1501.5 185.22L1480.96 181.25L1445.42 187Z"/><path class="m" d="M1466.86 187.13L1480.06 181.63"/><path fill="#758798" d="M1430.42 189.24L1465.96 187.51L1445.42 187L1409.88 192.75Z"/><path class="m" d="M1431.32 189.1L1444.52 187.13"/><path fill="#798c9c" d="M1394.88 191.38L1430.42 189.24L1409.88 192.75L1374.33 198.5Z"/><path class="m" d="M1395.78 191.47L1408.98 192.67"/><path fill="#7d919f" d="M1359.34 194.67L1394.88 191.38L1374.33 198.5L1338.79 204.25Z"/><path class="m" d="M1360.24 194.9L1373.43 198.27"/><path fill="#8196a3" d="M1323.79 199.54L1359.34 194.67L1338.79 204.25L1303.25 210Z"/><path class="m" d="M1324.69 199.82L1337.89 203.97"/><path fill="#7d919f" d="M1288.25 206.17L1323.79 199.54L1303.25 210L1267.71 215.75Z"/><path class="m" d="M1289.15 206.4L1302.35 209.77"/><path fill="#798c9c" d="M1252.71 214.38L1288.25 206.17L1267.71 215.75L1232.17 221.5Z"/><path class="m" d="M1253.61 214.47L1266.81 215.67"/><path fill="#758798" d="M1217.17 223.74L1252.71 214.38L1232.17 221.5L1196.62 227.25Z"/><path class="m" d="M1218.07 223.6L1231.27 221.63"/><path fill="#6d7d91" d="M1181.63 233.51L1217.17 223.74L1196.62 227.25L1161.08 233Z"/><path class="m" d="M1182.53 233.13L1195.73 227.63"/><path fill="#69788e" d="M1146.09 242.72L1181.63 233.51L1161.08 233L1125.54 238.75Z"/><path class="m" d="M1146.99 242.14L1160.18 233.58"/><path fill="#69788e" d="M1110.54 250.09L1146.09 242.72L1125.54 238.75L1090 244.5Z"/><path class="m" d="M1111.44 249.41L1124.64 239.43"/><path fill="#6d7d91" d="M1522.05 188.13L1557.59 186.69L1537.04 181.09L1501.5 185.22Z"/><path class="m" d="M1522.95 187.71L1536.14 181.52"/><path fill="#7d919f" d="M1486.5 184.7L1522.05 188.13L1501.5 185.22L1465.96 187.51Z"/><path class="m" d="M1487.4 184.73L1500.6 185.19"/><path fill="#8ca4ac" d="M1450.96 179.8L1486.5 184.7L1465.96 187.51L1430.42 189.24Z"/><path class="m" d="M1451.86 180.26L1465.06 187.04"/><path fill="#97b2b5" d="M1415.42 175.99L1450.96 179.8L1430.42 189.24L1394.88 191.38Z"/><path class="m" d="M1416.32 176.79L1429.52 188.44"/><path fill="#a1c0bd" d="M1379.88 175.2L1415.42 175.99L1394.88 191.38L1359.34 194.67Z"/><path class="m" d="M1380.78 176.17L1393.98 190.41"/><path fill="#a1c0bd" d="M1344.34 178.63L1379.88 175.2L1359.34 194.67L1323.79 199.54Z"/><path class="m" d="M1345.24 179.59L1358.44 193.7"/><path fill="#a1c0bd" d="M1308.8 186.7L1344.34 178.63L1323.79 199.54L1288.25 206.17Z"/><path class="m" d="M1309.7 187.47L1322.89 198.77"/><path fill="#97b2b5" d="M1273.25 198.99L1308.8 186.7L1288.25 206.17L1252.71 214.38Z"/><path class="m" d="M1274.15 199.42L1287.35 205.74"/><path fill="#8ca4ac" d="M1237.71 214.3L1273.25 198.99L1252.71 214.38L1217.17 223.74Z"/><path class="m" d="M1238.61 214.3L1251.81 214.38"/><path fill="#7d919f" d="M1202.17 230.7L1237.71 214.3L1217.17 223.74L1181.63 233.51Z"/><path class="m" d="M1203.07 230.28L1216.27 224.16"/><path fill="#6d7d91" d="M1166.63 245.63L1202.17 230.7L1181.63 233.51L1146.09 242.72Z"/><path class="m" d="M1167.53 244.9L1180.73 234.23"/><path fill="#69788e" d="M1131.09 255.69L1166.63 245.63L1146.09 242.72L1110.54 250.09Z"/><path class="m" d="M1131.99 254.91L1145.19 243.5"/><path fill="#718295" d="M1542.59 191.11L1578.13 192.28L1557.59 186.69L1522.05 188.13Z"/><path class="m" d="M1543.49 190.84L1556.69 186.95"/><path fill="#899fa9" d="M1507.05 182.1L1542.59 191.11L1522.05 188.13L1486.5 184.7Z"/><path class="m" d="M1507.95 182.46L1521.15 187.77"/><path fill="#9ebbba" d="M1471.51 170.73L1507.05 182.1L1486.5 184.7L1450.96 179.8Z"/><path class="m" d="M1472.41 171.57L1485.6 183.86"/><path fill="#c0d7d0" d="M1435.96 161.11L1471.51 170.73L1450.96 179.8L1415.42 175.99Z"/><path class="m" d="M1436.86 162.24L1450.06 178.68"/><path fill="#d5e6e1" d="M1400.42 156.35L1435.96 161.11L1415.42 175.99L1379.88 175.2Z"/><path class="m" d="M1401.32 157.53L1414.52 174.81"/><path fill="#daeae5" d="M1364.88 158.37L1400.42 156.35L1379.88 175.2L1344.34 178.63Z"/><path class="m" d="M1365.78 159.38L1378.98 174.19"/><path fill="#d5e6e1" d="M1329.34 167.85L1364.88 158.37L1344.34 178.63L1308.8 186.7Z"/><path class="m" d="M1330.24 168.49L1343.44 177.98"/><path fill="#c0d7d0" d="M1293.8 184.11L1329.34 167.85L1308.8 186.7L1273.25 198.99Z"/><path class="m" d="M1294.7 184.27L1307.9 186.54"/><path fill="#9ebbba" d="M1258.26 205.23L1293.8 184.11L1273.25 198.99L1237.71 214.3Z"/><path class="m" d="M1259.16 204.86L1272.35 199.37"/><path fill="#899fa9" d="M1222.71 228.1L1258.26 205.23L1237.71 214.3L1202.17 230.7Z"/><path class="m" d="M1223.61 227.27L1236.81 215.13"/><path fill="#718295" d="M1187.17 248.61L1222.71 228.1L1202.17 230.7L1166.63 245.63Z"/><path class="m" d="M1188.07 247.53L1201.27 231.77"/><path fill="#69788e" d="M1151.63 261.28L1187.17 248.61L1166.63 245.63L1131.09 255.69Z"/><path class="m" d="M1152.53 260.34L1165.73 246.57"/><path fill="#758798" d="M1563.13 195.06L1598.68 197.87L1578.13 192.28L1542.59 191.11Z"/><path class="m" d="M1564.03 194.9L1577.23 192.45"/><path fill="#90a9af" d="M1527.59 182.57L1563.13 195.06L1542.59 191.11L1507.05 182.1Z"/><path class="m" d="M1528.49 183.09L1541.69 190.59"/><path fill="#aecac4" d="M1492.05 167.16L1527.59 182.57L1507.05 182.1L1471.51 170.73Z"/><path class="m" d="M1492.95 168.06L1506.15 181.2"/><path fill="#daeae5" d="M1456.51 153.92L1492.05 167.16L1471.51 170.73L1435.96 161.11Z"/><path class="m" d="M1457.41 154.93L1470.61 169.72"/><path fill="#f3f8f6" d="M1420.97 146.67L1456.51 153.92L1435.96 161.11L1400.42 156.35Z"/><path class="m" d="M1421.87 147.54L1435.06 160.25"/><path fill="#ffffff" d="M1385.43 147.81L1420.97 146.67L1400.42 156.35L1364.88 158.37Z"/><path class="m" d="M1386.32 148.32L1399.52 155.83"/><path fill="#f3f8f6" d="M1349.88 158.17L1385.43 147.81L1364.88 158.37L1329.34 167.85Z"/><path class="m" d="M1350.78 158.18L1363.98 158.36"/><path fill="#daeae5" d="M1314.34 176.92L1349.88 158.17L1329.34 167.85L1293.8 184.11Z"/><path class="m" d="M1315.24 176.37L1328.44 168.39"/><path fill="#aecac4" d="M1278.8 201.66L1314.34 176.92L1293.8 184.11L1258.26 205.23Z"/><path class="m" d="M1279.7 200.61L1292.9 185.17"/><path fill="#90a9af" d="M1243.26 228.57L1278.8 201.66L1258.26 205.23L1222.71 228.1Z"/><path class="m" d="M1244.16 227.17L1257.36 206.63"/><path fill="#758798" d="M1207.72 252.56L1243.26 228.57L1222.71 228.1L1187.17 248.61Z"/><path class="m" d="M1208.62 251.1L1221.81 229.57"/><path fill="#69788e" d="M1172.18 266.88L1207.72 252.56L1187.17 248.61L1151.63 261.28Z"/><path class="m" d="M1173.07 265.78L1186.27 249.7"/><path fill="#758798" d="M1583.68 200.58L1619.22 203.47L1598.68 197.87L1563.13 195.06Z"/><path class="m" d="M1584.58 200.42L1597.78 198.04"/><path fill="#90a9af" d="M1548.14 187.94L1583.68 200.58L1563.13 195.06L1527.59 182.57Z"/><path class="m" d="M1549.04 188.36L1562.23 194.64"/><path fill="#b4cfc8" d="M1512.59 172.34L1548.14 187.94L1527.59 182.57L1492.05 167.16Z"/><path class="m" d="M1513.49 172.95L1526.69 181.96"/><path fill="#daeae5" d="M1477.05 158.93L1512.59 172.34L1492.05 167.16L1456.51 153.92Z"/><path class="m" d="M1477.95 159.43L1491.15 166.67"/><path fill="#f9fcfb" d="M1441.51 151.57L1477.05 158.93L1456.51 153.92L1420.97 146.67Z"/><path class="m" d="M1442.41 151.71L1455.61 153.78"/><path fill="#ffffff" d="M1405.97 152.67L1441.51 151.57L1420.97 146.67L1385.43 147.81Z"/><path class="m" d="M1406.87 152.31L1420.07 147.03"/><path fill="#f9fcfb" d="M1370.43 163.07L1405.97 152.67L1385.43 147.81L1349.88 158.17Z"/><path class="m" d="M1371.33 162.15L1384.53 148.73"/><path fill="#daeae5" d="M1334.89 181.93L1370.43 163.07L1349.88 158.17L1314.34 176.92Z"/><path class="m" d="M1335.79 180.51L1348.98 159.59"/><path fill="#b4cfc8" d="M1299.34 206.84L1334.89 181.93L1314.34 176.92L1278.8 201.66Z"/><path class="m" d="M1300.24 205.04L1313.44 178.71"/><path fill="#90a9af" d="M1263.8 233.94L1299.34 206.84L1278.8 201.66L1243.26 228.57Z"/><path class="m" d="M1264.7 232L1277.9 203.6"/><path fill="#758798" d="M1228.26 258.08L1263.8 233.94L1243.26 228.57L1207.72 252.56Z"/><path class="m" d="M1229.16 256.31L1242.36 230.35"/><path fill="#69788e" d="M1192.72 272.47L1228.26 258.08L1207.72 252.56L1172.18 266.88Z"/><path class="m" d="M1193.62 271.27L1206.82 253.76"/><path fill="#718295" d="M1604.22 207.82L1639.76 209.06L1619.22 203.47L1583.68 200.58Z"/><path class="m" d="M1605.12 207.56L1618.32 203.73"/><path fill="#899fa9" d="M1568.68 198.67L1604.22 207.82L1583.68 200.58L1548.14 187.94Z"/><path class="m" d="M1569.58 198.79L1582.78 200.47"/><path fill="#9ebbba" d="M1533.14 187.14L1568.68 198.67L1548.14 187.94L1512.59 172.34Z"/><path class="m" d="M1534.04 187.19L1547.24 187.89"/><path fill="#c0d7d0" d="M1497.6 177.37L1533.14 187.14L1512.59 172.34L1477.05 158.93Z"/><path class="m" d="M1498.5 177.07L1511.69 172.64"/><path fill="#d5e6e1" d="M1462.05 172.51L1497.6 177.37L1477.05 158.93L1441.51 151.57Z"/><path class="m" d="M1462.95 171.69L1476.15 159.75"/><path fill="#daeae5" d="M1426.51 174.49L1462.05 172.51L1441.51 151.57L1405.97 152.67Z"/><path class="m" d="M1427.41 173.12L1440.61 152.94"/><path fill="#d5e6e1" d="M1390.97 184.01L1426.51 174.49L1405.97 152.67L1370.43 163.07Z"/><path class="m" d="M1391.87 182.13L1405.07 154.55"/><path fill="#c0d7d0" d="M1355.43 200.37L1390.97 184.01L1370.43 163.07L1334.89 181.93Z"/><path class="m" d="M1356.33 198.14L1369.53 165.31"/><path fill="#9ebbba" d="M1319.89 221.64L1355.43 200.37L1334.89 181.93L1299.34 206.84Z"/><path class="m" d="M1320.79 219.26L1333.99 184.31"/><path fill="#899fa9" d="M1284.35 244.67L1319.89 221.64L1299.34 206.84L1263.8 233.94Z"/><path class="m" d="M1285.25 242.4L1298.44 209.11"/><path fill="#718295" d="M1248.8 265.32L1284.35 244.67L1263.8 233.94L1228.26 258.08Z"/><path class="m" d="M1249.7 263.44L1262.9 235.82"/><path fill="#69788e" d="M1213.26 278.06L1248.8 265.32L1228.26 258.08L1192.72 272.47Z"/><path class="m" d="M1214.16 276.86L1227.36 259.28"/><path fill="#6d7d91" d="M1624.76 216.5L1660.31 214.66L1639.76 209.06L1604.22 207.82Z"/><path class="m" d="M1625.66 216.05L1638.86 209.51"/><path fill="#798c9c" d="M1589.22 213.93L1624.76 216.5L1604.22 207.82L1568.68 198.67Z"/><path class="m" d="M1590.12 213.56L1603.32 208.19"/><path fill="#899fa9" d="M1553.68 210.02L1589.22 213.93L1568.68 198.67L1533.14 187.14Z"/><path class="m" d="M1554.58 209.34L1567.78 199.35"/><path fill="#93adb2" d="M1518.14 207.11L1553.68 210.02L1533.14 187.14L1497.6 177.37Z"/><path class="m" d="M1519.04 205.91L1532.24 188.34"/><path fill="#9ab7b7" d="M1482.6 206.93L1518.14 207.11L1497.6 177.37L1462.05 172.51Z"/><path class="m" d="M1483.5 205.15L1496.7 179.15"/><path fill="#9ebbba" d="M1447.06 210.57L1482.6 206.93L1462.05 172.51L1426.51 174.49Z"/><path class="m" d="M1447.96 208.29L1461.15 174.79"/><path fill="#9ab7b7" d="M1411.51 218.43L1447.06 210.57L1426.51 174.49L1390.97 184.01Z"/><path class="m" d="M1412.41 215.79L1425.61 177.13"/><path fill="#93adb2" d="M1375.97 230.11L1411.51 218.43L1390.97 184.01L1355.43 200.37Z"/><path class="m" d="M1376.87 227.34L1390.07 186.77"/><path fill="#899fa9" d="M1340.43 244.52L1375.97 230.11L1355.43 200.37L1319.89 221.64Z"/><path class="m" d="M1341.33 241.87L1354.53 203.02"/><path fill="#798c9c" d="M1304.89 259.93L1340.43 244.52L1319.89 221.64L1284.35 244.67Z"/><path class="m" d="M1305.79 257.63L1318.99 223.94"/><path fill="#6d7d91" d="M1269.35 274L1304.89 259.93L1284.35 244.67L1248.8 265.32Z"/><path class="m" d="M1270.25 272.24L1283.45 246.43"/><path fill="#69788e" d="M1233.81 283.66L1269.35 274L1248.8 265.32L1213.26 278.06Z"/><path class="m" d="M1234.71 282.56L1247.9 266.42"/><path fill="#69788e" d="M1645.31 226L1680.85 220.25L1660.31 214.66L1624.76 216.5Z"/><path class="m" d="M1646.21 225.32L1659.41 215.34"/><path fill="#69788e" d="M1609.77 231.75L1645.31 226L1624.76 216.5L1589.22 213.93Z"/><path class="m" d="M1610.67 230.84L1623.86 217.42"/><path fill="#69788e" d="M1574.23 237.5L1609.77 231.75L1589.22 213.93L1553.68 210.02Z"/><path class="m" d="M1575.12 236.09L1588.32 215.34"/><path fill="#69788e" d="M1538.68 243.25L1574.23 237.5L1553.68 210.02L1518.14 207.11Z"/><path class="m" d="M1539.58 241.26L1552.78 212.02"/><path fill="#69788e" d="M1503.14 249L1538.68 243.25L1518.14 207.11L1482.6 206.93Z"/><path class="m" d="M1504.04 246.49L1517.24 209.62"/><path fill="#69788e" d="M1467.6 254.75L1503.14 249L1482.6 206.93L1447.06 210.57Z"/><path class="m" d="M1468.5 251.88L1481.7 209.79"/><path fill="#69788e" d="M1432.06 260.5L1467.6 254.75L1447.06 210.57L1411.51 218.43Z"/><path class="m" d="M1432.96 257.5L1446.16 213.57"/><path fill="#69788e" d="M1396.52 266.25L1432.06 260.5L1411.51 218.43L1375.97 230.11Z"/><path class="m" d="M1397.42 263.38L1410.61 221.29"/><path fill="#69788e" d="M1360.98 272L1396.52 266.25L1375.97 230.11L1340.43 244.52Z"/><path class="m" d="M1361.87 269.49L1375.07 232.62"/><path fill="#69788e" d="M1325.43 277.75L1360.98 272L1340.43 244.52L1304.89 259.93Z"/><path class="m" d="M1326.33 275.76L1339.53 246.52"/><path fill="#69788e" d="M1289.89 283.5L1325.43 277.75L1304.89 259.93L1269.35 274Z"/><path class="m" d="M1290.79 282.09L1303.99 261.34"/><path fill="#69788e" d="M1254.35 289.25L1289.89 283.5L1269.35 274L1233.81 283.66Z"/><path class="m" d="M1255.25 288.34L1268.45 274.92"/><path fill="#636e88" d="M1665.85 235.5L1701.39 225.84L1680.85 220.25L1645.31 226Z"/><path class="m" d="M1666.75 234.58L1679.95 221.16"/><path fill="#5a617f" d="M1630.31 249.57L1665.85 235.5L1645.31 226L1609.77 231.75Z"/><path class="m" d="M1631.21 248.16L1644.41 227.41"/><path fill="#4f4f72" d="M1594.77 264.98L1630.31 249.57L1609.77 231.75L1574.23 237.5Z"/><path class="m" d="M1595.67 262.98L1608.87 233.74"/><path fill="#434363" d="M1559.23 279.39L1594.77 264.98L1574.23 237.5L1538.68 243.25Z"/><path class="m" d="M1560.13 276.88L1573.33 240.01"/><path fill="#3c3b59" d="M1523.69 291.07L1559.23 279.39L1538.68 243.25L1503.14 249Z"/><path class="m" d="M1524.59 288.21L1537.78 246.12"/><path fill="#383754" d="M1488.14 298.93L1523.69 291.07L1503.14 249L1467.6 254.75Z"/><path class="m" d="M1489.04 295.93L1502.24 252"/><path fill="#3c3b59" d="M1452.6 302.57L1488.14 298.93L1467.6 254.75L1432.06 260.5Z"/><path class="m" d="M1453.5 299.71L1466.7 257.62"/><path fill="#434363" d="M1417.06 302.39L1452.6 302.57L1432.06 260.5L1396.52 266.25Z"/><path class="m" d="M1417.96 299.88L1431.16 263.01"/><path fill="#4f4f72" d="M1381.52 299.48L1417.06 302.39L1396.52 266.25L1360.98 272Z"/><path class="m" d="M1382.42 297.48L1395.62 268.24"/><path fill="#5a617f" d="M1345.98 295.57L1381.52 299.48L1360.98 272L1325.43 277.75Z"/><path class="m" d="M1346.88 294.16L1360.08 273.41"/><path fill="#636e88" d="M1310.44 293L1345.98 295.57L1325.43 277.75L1289.89 283.5Z"/><path class="m" d="M1311.34 292.08L1324.53 278.66"/><path fill="#69788e" d="M1274.89 294.84L1310.44 293L1289.89 283.5L1254.35 289.25Z"/><path class="m" d="M1275.79 294.16L1288.99 284.18"/><path fill="#606a85" d="M1686.4 244.18L1721.94 231.44L1701.39 225.84L1665.85 235.5Z"/><path class="m" d="M1687.3 243.08L1700.49 226.94"/><path fill="#4f4f72" d="M1650.85 264.83L1686.4 244.18L1665.85 235.5L1630.31 249.57Z"/><path class="m" d="M1651.75 263.07L1664.95 237.26"/><path fill="#383754" d="M1615.31 287.86L1650.85 264.83L1630.31 249.57L1594.77 264.98Z"/><path class="m" d="M1616.21 285.56L1629.41 251.87"/><path fill="#272638" d="M1579.77 309.13L1615.31 287.86L1594.77 264.98L1559.23 279.39Z"/><path class="m" d="M1580.67 306.48L1593.87 267.63"/><path fill="#1d1c26" d="M1544.23 325.49L1579.77 309.13L1559.23 279.39L1523.69 291.07Z"/><path class="m" d="M1545.13 322.73L1558.33 282.16"/><path fill="#1a1921" d="M1508.69 335.01L1544.23 325.49L1523.69 291.07L1488.14 298.93Z"/><path class="m" d="M1509.59 332.37L1522.79 293.71"/><path fill="#1d1c26" d="M1473.15 336.99L1508.69 335.01L1488.14 298.93L1452.6 302.57Z"/><path class="m" d="M1474.05 334.71L1487.24 301.21"/><path fill="#272638" d="M1437.6 332.13L1473.15 336.99L1452.6 302.57L1417.06 302.39Z"/><path class="m" d="M1438.5 330.35L1451.7 304.35"/><path fill="#383754" d="M1402.06 322.36L1437.6 332.13L1417.06 302.39L1381.52 299.48Z"/><path class="m" d="M1402.96 321.16L1416.16 303.59"/><path fill="#4f4f72" d="M1366.52 310.83L1402.06 322.36L1381.52 299.48L1345.98 295.57Z"/><path class="m" d="M1367.42 310.15L1380.62 300.16"/><path fill="#606a85" d="M1330.98 301.68L1366.52 310.83L1345.98 295.57L1310.44 293Z"/><path class="m" d="M1331.88 301.31L1345.08 295.94"/><path fill="#69788e" d="M1295.44 300.44L1330.98 301.68L1310.44 293L1274.89 294.84Z"/><path class="m" d="M1296.34 299.99L1309.54 293.45"/><path fill="#5d6582" d="M1706.94 251.42L1742.48 237.03L1721.94 231.44L1686.4 244.18Z"/><path class="m" d="M1707.84 250.22L1721.04 232.64"/><path fill="#474768" d="M1671.4 275.56L1706.94 251.42L1686.4 244.18L1650.85 264.83Z"/><path class="m" d="M1672.3 273.68L1685.5 246.06"/><path fill="#2d2c41" d="M1635.86 302.66L1671.4 275.56L1650.85 264.83L1615.31 287.86Z"/><path class="m" d="M1636.76 300.39L1649.95 267.1"/><path fill="#1a1921" d="M1600.31 327.57L1635.86 302.66L1615.31 287.86L1579.77 309.13Z"/><path class="m" d="M1601.21 325.19L1614.41 290.24"/><path fill="#0b0b13" d="M1564.77 346.43L1600.31 327.57L1579.77 309.13L1544.23 325.49Z"/><path class="m" d="M1565.67 344.19L1578.87 311.36"/><path fill="#080810" d="M1529.23 356.83L1564.77 346.43L1544.23 325.49L1508.69 335.01Z"/><path class="m" d="M1530.13 354.95L1543.33 327.37"/><path fill="#0b0b13" d="M1493.69 357.93L1529.23 356.83L1508.69 335.01L1473.15 336.99Z"/><path class="m" d="M1494.59 356.56L1507.79 336.38"/><path fill="#1a1921" d="M1458.15 350.57L1493.69 357.93L1473.15 336.99L1437.6 332.13Z"/><path class="m" d="M1459.05 349.75L1472.25 337.81"/><path fill="#2d2c41" d="M1422.61 337.16L1458.15 350.57L1437.6 332.13L1402.06 322.36Z"/><path class="m" d="M1423.51 336.86L1436.7 332.43"/><path fill="#474768" d="M1387.06 321.56L1422.61 337.16L1402.06 322.36L1366.52 310.83Z"/><path class="m" d="M1387.96 321.61L1401.16 322.31"/><path fill="#5d6582" d="M1351.52 308.92L1387.06 321.56L1366.52 310.83L1330.98 301.68Z"/><path class="m" d="M1352.42 309.03L1365.62 310.71"/><path fill="#69788e" d="M1315.98 306.03L1351.52 308.92L1330.98 301.68L1295.44 300.44Z"/><path class="m" d="M1316.88 305.77L1330.08 301.94"/><path fill="#5d6582" d="M1727.48 256.94L1763.03 242.63L1742.48 237.03L1706.94 251.42Z"/><path class="m" d="M1728.38 255.74L1741.58 238.23"/><path fill="#474768" d="M1691.94 280.93L1727.48 256.94L1706.94 251.42L1671.4 275.56Z"/><path class="m" d="M1692.84 279.15L1706.04 253.19"/><path fill="#2f2e46" d="M1656.4 307.84L1691.94 280.93L1671.4 275.56L1635.86 302.66Z"/><path class="m" d="M1657.3 305.9L1670.5 277.5"/><path fill="#1a1921" d="M1620.86 332.58L1656.4 307.84L1635.86 302.66L1600.31 327.57Z"/><path class="m" d="M1621.76 330.79L1634.96 304.46"/><path fill="#0e0e15" d="M1585.32 351.33L1620.86 332.58L1600.31 327.57L1564.77 346.43Z"/><path class="m" d="M1586.22 349.91L1599.41 328.99"/><path fill="#080810" d="M1549.78 361.69L1585.32 351.33L1564.77 346.43L1529.23 356.83Z"/><path class="m" d="M1550.67 360.77L1563.87 347.35"/><path fill="#0e0e15" d="M1514.23 362.83L1549.78 361.69L1529.23 356.83L1493.69 357.93Z"/><path class="m" d="M1515.13 362.47L1528.33 357.19"/><path fill="#1a1921" d="M1478.69 355.58L1514.23 362.83L1493.69 357.93L1458.15 350.57Z"/><path class="m" d="M1479.59 355.72L1492.79 357.79"/><path fill="#2f2e46" d="M1443.15 342.34L1478.69 355.58L1458.15 350.57L1422.61 337.16Z"/><path class="m" d="M1444.05 342.83L1457.25 350.07"/><path fill="#474768" d="M1407.61 326.93L1443.15 342.34L1422.61 337.16L1387.06 321.56Z"/><path class="m" d="M1408.51 327.54L1421.71 336.55"/><path fill="#5d6582" d="M1372.07 314.44L1407.61 326.93L1387.06 321.56L1351.52 308.92Z"/><path class="m" d="M1372.97 314.86L1386.16 321.14"/><path fill="#69788e" d="M1336.53 311.62L1372.07 314.44L1351.52 308.92L1315.98 306.03Z"/><path class="m" d="M1337.42 311.46L1350.62 309.08"/><path fill="#606a85" d="M1748.03 260.89L1783.57 248.22L1763.03 242.63L1727.48 256.94Z"/><path class="m" d="M1748.93 259.8L1762.13 243.72"/><path fill="#4f4f72" d="M1712.49 281.4L1748.03 260.89L1727.48 256.94L1691.94 280.93Z"/><path class="m" d="M1713.39 279.93L1726.58 258.4"/><path fill="#383754" d="M1676.94 304.27L1712.49 281.4L1691.94 280.93L1656.4 307.84Z"/><path class="m" d="M1677.84 302.87L1691.04 282.33"/><path fill="#272638" d="M1641.4 325.39L1676.94 304.27L1656.4 307.84L1620.86 332.58Z"/><path class="m" d="M1642.3 324.33L1655.5 308.89"/><path fill="#1d1c26" d="M1605.86 341.65L1641.4 325.39L1620.86 332.58L1585.32 351.33Z"/><path class="m" d="M1606.76 341.11L1619.96 333.13"/><path fill="#1a1921" d="M1570.32 351.13L1605.86 341.65L1585.32 351.33L1549.78 361.69Z"/><path class="m" d="M1571.22 351.14L1584.42 351.32"/><path fill="#1d1c26" d="M1534.78 353.15L1570.32 351.13L1549.78 361.69L1514.23 362.83Z"/><path class="m" d="M1535.68 353.67L1548.88 361.18"/><path fill="#272638" d="M1499.24 348.39L1534.78 353.15L1514.23 362.83L1478.69 355.58Z"/><path class="m" d="M1500.14 349.25L1513.33 361.96"/><path fill="#383754" d="M1463.69 338.77L1499.24 348.39L1478.69 355.58L1443.15 342.34Z"/><path class="m" d="M1464.59 339.78L1477.79 354.57"/><path fill="#4f4f72" d="M1428.15 327.4L1463.69 338.77L1443.15 342.34L1407.61 326.93Z"/><path class="m" d="M1429.05 328.3L1442.25 341.44"/><path fill="#606a85" d="M1392.61 318.39L1428.15 327.4L1407.61 326.93L1372.07 314.44Z"/><path class="m" d="M1393.51 318.91L1406.71 326.41"/><path fill="#69788e" d="M1357.07 317.22L1392.61 318.39L1372.07 314.44L1336.53 311.62Z"/><path class="m" d="M1357.97 317.05L1371.17 314.6"/><path fill="#636e88" d="M1768.57 263.87L1804.11 253.81L1783.57 248.22L1748.03 260.89Z"/><path class="m" d="M1769.47 262.93L1782.67 249.16"/><path fill="#585d7c" d="M1733.03 278.8L1768.57 263.87L1748.03 260.89L1712.49 281.4Z"/><path class="m" d="M1733.93 277.73L1747.13 261.97"/><path fill="#4b4b6d" d="M1697.49 295.2L1733.03 278.8L1712.49 281.4L1676.94 304.27Z"/><path class="m" d="M1698.39 294.37L1711.59 282.23"/><path fill="#403f5e" d="M1661.95 310.51L1697.49 295.2L1676.94 304.27L1641.4 325.39Z"/><path class="m" d="M1662.85 310.13L1676.04 304.64"/><path fill="#34334f" d="M1626.4 322.8L1661.95 310.51L1641.4 325.39L1605.86 341.65Z"/><path class="m" d="M1627.3 322.96L1640.5 325.23"/><path fill="#34334f" d="M1590.86 330.87L1626.4 322.8L1605.86 341.65L1570.32 351.13Z"/><path class="m" d="M1591.76 331.52L1604.96 341.01"/><path fill="#34334f" d="M1555.32 334.3L1590.86 330.87L1570.32 351.13L1534.78 353.15Z"/><path class="m" d="M1556.22 335.31L1569.42 350.12"/><path fill="#403f5e" d="M1519.78 333.51L1555.32 334.3L1534.78 353.15L1499.24 348.39Z"/><path class="m" d="M1520.68 334.69L1533.88 351.97"/><path fill="#4b4b6d" d="M1484.24 329.7L1519.78 333.51L1499.24 348.39L1463.69 338.77Z"/><path class="m" d="M1485.14 330.82L1498.34 347.26"/><path fill="#585d7c" d="M1448.7 324.8L1484.24 329.7L1463.69 338.77L1428.15 327.4Z"/><path class="m" d="M1449.6 325.64L1462.79 337.93"/><path fill="#636e88" d="M1413.15 321.37L1448.7 324.8L1428.15 327.4L1392.61 318.39Z"/><path class="m" d="M1414.05 321.73L1427.25 327.04"/><path fill="#69788e" d="M1377.61 322.81L1413.15 321.37L1392.61 318.39L1357.07 317.22Z"/><path class="m" d="M1378.51 322.55L1391.71 318.66"/><path fill="#66738b" d="M1789.11 266.78L1824.66 259.41L1804.11 253.81L1768.57 263.87Z"/><path class="m" d="M1790.01 266L1803.21 254.59"/><path fill="#636e88" d="M1753.57 275.99L1789.11 266.78L1768.57 263.87L1733.03 278.8Z"/><path class="m" d="M1754.47 275.27L1767.67 264.6"/><path fill="#5d6582" d="M1718.03 285.76L1753.57 275.99L1733.03 278.8L1697.49 295.2Z"/><path class="m" d="M1718.93 285.34L1732.13 279.22"/><path fill="#5a617f" d="M1682.49 295.12L1718.03 285.76L1697.49 295.2L1661.95 310.51Z"/><path class="m" d="M1683.39 295.12L1696.59 295.2"/><path fill="#585d7c" d="M1646.95 303.33L1682.49 295.12L1661.95 310.51L1626.4 322.8Z"/><path class="m" d="M1647.85 303.76L1661.05 310.08"/><path fill="#555879" d="M1611.41 309.96L1646.95 303.33L1626.4 322.8L1590.86 330.87Z"/><path class="m" d="M1612.31 310.73L1625.5 322.03"/><path fill="#585d7c" d="M1575.86 314.83L1611.41 309.96L1590.86 330.87L1555.32 334.3Z"/><path class="m" d="M1576.76 315.8L1589.96 329.91"/><path fill="#5a617f" d="M1540.32 318.12L1575.86 314.83L1555.32 334.3L1519.78 333.51Z"/><path class="m" d="M1541.22 319.09L1554.42 333.33"/><path fill="#5d6582" d="M1504.78 320.26L1540.32 318.12L1519.78 333.51L1484.24 329.7Z"/><path class="m" d="M1505.68 321.06L1518.88 332.71"/><path fill="#636e88" d="M1469.24 321.99L1504.78 320.26L1484.24 329.7L1448.7 324.8Z"/><path class="m" d="M1470.14 322.46L1483.34 329.24"/><path fill="#66738b" d="M1433.7 324.28L1469.24 321.99L1448.7 324.8L1413.15 321.37Z"/><path class="m" d="M1434.6 324.31L1447.8 324.77"/><path fill="#69788e" d="M1398.16 328.41L1433.7 324.28L1413.15 321.37L1377.61 322.81Z"/><path class="m" d="M1399.06 327.98L1412.25 321.79"/><path fill="#69788e" d="M1809.66 270.75L1845.2 265L1824.66 259.41L1789.11 266.78Z"/><path class="m" d="M1810.56 270.07L1823.76 260.09"/><path fill="#69788e" d="M1774.12 276.5L1809.66 270.75L1789.11 266.78L1753.57 275.99Z"/><path class="m" d="M1775.02 275.92L1788.21 267.36"/><path fill="#69788e" d="M1738.58 282.25L1774.12 276.5L1753.57 275.99L1718.03 285.76Z"/><path class="m" d="M1739.47 281.87L1752.67 276.37"/><path fill="#69788e" d="M1703.03 288L1738.58 282.25L1718.03 285.76L1682.49 295.12Z"/><path class="m" d="M1703.93 287.87L1717.13 285.9"/><path fill="#69788e" d="M1667.49 293.75L1703.03 288L1682.49 295.12L1646.95 303.33Z"/><path class="m" d="M1668.39 293.83L1681.59 295.03"/><path fill="#69788e" d="M1631.95 299.5L1667.49 293.75L1646.95 303.33L1611.41 309.96Z"/><path class="m" d="M1632.85 299.73L1646.05 303.1"/><path fill="#69788e" d="M1596.41 305.25L1631.95 299.5L1611.41 309.96L1575.86 314.83Z"/><path class="m" d="M1597.31 305.53L1610.51 309.68"/><path fill="#69788e" d="M1560.87 311L1596.41 305.25L1575.86 314.83L1540.32 318.12Z"/><path class="m" d="M1561.77 311.23L1574.96 314.6"/><path fill="#69788e" d="M1525.33 316.75L1560.87 311L1540.32 318.12L1504.78 320.26Z"/><path class="m" d="M1526.22 316.83L1539.42 318.03"/><path fill="#69788e" d="M1489.78 322.5L1525.33 316.75L1504.78 320.26L1469.24 321.99Z"/><path class="m" d="M1490.68 322.37L1503.88 320.4"/><path fill="#69788e" d="M1454.24 328.25L1489.78 322.5L1469.24 321.99L1433.7 324.28Z"/><path class="m" d="M1455.14 327.87L1468.34 322.37"/><path fill="#69788e" d="M1418.7 334L1454.24 328.25L1433.7 324.28L1398.16 328.41Z"/><path class="m" d="M1419.6 333.42L1432.8 324.86"/></g></g>
<g filter="url(#bt)"><text class="t" x="1071.3" y="361.07" text-anchor="middle">1</text><text class="t" x="1130.2" y="379.27" text-anchor="middle">0.8</text><text class="t" x="1195.9" y="397.77" text-anchor="middle">0.6</text><text class="t" x="1261.5" y="415.77" text-anchor="middle">0.4</text><text class="t" x="1327.1" y="433.77" text-anchor="middle">0.2</text><text class="t" x="1400.1" y="451.17" text-anchor="middle">0</text><text class="t" x="1432.3" y="452.27" text-anchor="start">0</text><text class="t" x="1517.6" y="438.47" text-anchor="start">0.2</text><text class="t" x="1602.9" y="424.67" text-anchor="start">0.4</text><text class="t" x="1688.2" y="410.87" text-anchor="start">0.6</text><text class="t" x="1773.5" y="397.07" text-anchor="start">0.8</text><text class="t" x="1860" y="383.27" text-anchor="start">1</text><text class="t" x="1073.2" y="345.27" text-anchor="end">-5</text><text class="t" x="1076.5" y="247.87" text-anchor="end">0</text><text class="t" x="1076.5" y="150.47" text-anchor="end">5</text><text class="sans" x="1214.6" y="421.7" text-anchor="middle">[L/y]</text><text class="sans" x="1664.7" y="435.1" text-anchor="middle">[C/x]</text><text class="l" transform="translate(1048 246.9) rotate(-90)" text-anchor="middle">Normalized Amplitude</text><text class="l ti" x="1468.2" y="63.1" text-anchor="middle">Mode 2</text></g></g></g>
<g><g filter="url(#bt)"><g><line class="g" x1="1003" y1="830.6" x2="674.3" y2="741.1"/><line class="g" x1="1003" y1="830.6" x2="1429.5" y2="761.6"/><line class="g" x1="674.3" y1="741.1" x2="674.3" y2="546.3"/><line class="g" x1="1429.5" y1="761.6" x2="1429.5" y2="566.8"/><line class="g" x1="1088.3" y1="816.8" x2="759.6" y2="727.3"/><line class="g" x1="937.26" y1="812.7" x2="1363.76" y2="743.7"/><line class="g" x1="759.6" y1="727.3" x2="759.6" y2="532.5"/><line class="g" x1="1363.76" y1="743.7" x2="1363.76" y2="548.9"/><line class="g" x1="1173.6" y1="803" x2="844.9" y2="713.5"/><line class="g" x1="871.52" y1="794.8" x2="1298.02" y2="725.8"/><line class="g" x1="844.9" y1="713.5" x2="844.9" y2="518.7"/><line class="g" x1="1298.02" y1="725.8" x2="1298.02" y2="531"/><line class="g" x1="1258.9" y1="789.2" x2="930.2" y2="699.7"/><line class="g" x1="805.78" y1="776.9" x2="1232.28" y2="707.9"/><line class="g" x1="930.2" y1="699.7" x2="930.2" y2="504.9"/><line class="g" x1="1232.28" y1="707.9" x2="1232.28" y2="513.1"/><line class="g" x1="1344.2" y1="775.4" x2="1015.5" y2="685.9"/><line class="g" x1="740.04" y1="759" x2="1166.54" y2="690"/><line class="g" x1="1015.5" y1="685.9" x2="1015.5" y2="491.1"/><line class="g" x1="1166.54" y1="690" x2="1166.54" y2="495.2"/><line class="g" x1="1429.5" y1="761.6" x2="1100.8" y2="672.1"/><line class="g" x1="674.3" y1="741.1" x2="1100.8" y2="672.1"/><line class="g" x1="1100.8" y1="672.1" x2="1100.8" y2="477.3"/><line class="g" x1="1100.8" y1="672.1" x2="1100.8" y2="477.3"/><line class="g" x1="674.3" y1="741.1" x2="1100.8" y2="672.1"/><line class="g" x1="1100.8" y1="672.1" x2="1429.5" y2="761.6"/><line class="g" x1="674.3" y1="643.7" x2="1100.8" y2="574.7"/><line class="g" x1="1100.8" y1="574.7" x2="1429.5" y2="664.2"/><line class="g" x1="674.3" y1="546.3" x2="1100.8" y2="477.3"/><line class="g" x1="1100.8" y1="477.3" x2="1429.5" y2="566.8"/><line class="g" x1="674.3" y1="546.3" x2="1100.8" y2="477.3"/><line class="g" x1="1100.8" y1="477.3" x2="1429.5" y2="566.8"/></g>
<g><line class="a" x1="674.3" y1="741.1" x2="674.3" y2="546.3"/><line class="a" x1="674.3" y1="741.1" x2="1003" y2="830.6"/><line class="a" x1="1003" y1="830.6" x2="1429.5" y2="761.6"/><line class="a" x1="1003" y1="830.6" x2="1013.13" y2="833.36"/><line class="a" x1="1003" y1="830.6" x2="992.63" y2="832.28"/><line class="a" x1="1088.3" y1="816.8" x2="1098.43" y2="819.56"/><line class="a" x1="937.26" y1="812.7" x2="926.89" y2="814.38"/><line class="a" x1="1173.6" y1="803" x2="1183.73" y2="805.76"/><line class="a" x1="871.52" y1="794.8" x2="861.15" y2="796.48"/><line class="a" x1="1258.9" y1="789.2" x2="1269.03" y2="791.96"/><line class="a" x1="805.78" y1="776.9" x2="795.41" y2="778.58"/><line class="a" x1="1344.2" y1="775.4" x2="1354.33" y2="778.16"/><line class="a" x1="740.04" y1="759" x2="729.67" y2="760.68"/><line class="a" x1="1429.5" y1="761.6" x2="1439.63" y2="764.36"/><line class="a" x1="674.3" y1="741.1" x2="663.93" y2="742.78"/><line class="a" x1="674.3" y1="741.1" x2="664.17" y2="738.34"/><line class="a" x1="674.3" y1="643.7" x2="664.17" y2="640.94"/><line class="a" x1="674.3" y1="546.3" x2="664.17" y2="543.54"/></g></g>
<g filter="url(#bg)"><g class="s" stroke="#050508"><path fill="#66738b" d="M1085.8 588.89L1121.34 580.29L1100.8 574.7L1065.26 580.45Z"/><path class="m" d="M1086.7 588.04L1099.9 575.55"/><path fill="#606a85" d="M1050.26 600.7L1085.8 588.89L1065.26 580.45L1029.72 586.2Z"/><path class="m" d="M1051.16 599.49L1064.36 581.67"/><path fill="#585d7c" d="M1014.72 613.49L1050.26 600.7L1029.72 586.2L994.17 591.95Z"/><path class="m" d="M1015.62 611.85L1028.82 587.84"/><path fill="#525476" d="M979.18 625.55L1014.72 613.49L994.17 591.95L958.63 597.7Z"/><path class="m" d="M980.08 623.53L993.28 593.97"/><path fill="#4b4b6d" d="M943.64 635.62L979.18 625.55L958.63 597.7L923.09 603.45Z"/><path class="m" d="M944.54 633.35L957.73 599.98"/><path fill="#474768" d="M908.09 642.9L943.64 635.62L923.09 603.45L887.55 609.2Z"/><path class="m" d="M908.99 640.54L922.19 605.82"/><path fill="#4b4b6d" d="M872.55 647.12L908.09 642.9L887.55 609.2L852.01 614.95Z"/><path class="m" d="M873.45 644.85L886.65 611.48"/><path fill="#525476" d="M837.01 648.55L872.55 647.12L852.01 614.95L816.47 620.7Z"/><path class="m" d="M837.91 646.53L851.11 616.97"/><path fill="#585d7c" d="M801.47 647.99L837.01 648.55L816.47 620.7L780.92 626.45Z"/><path class="m" d="M802.37 646.35L815.57 622.34"/><path fill="#606a85" d="M765.93 646.7L801.47 647.99L780.92 626.45L745.38 632.2Z"/><path class="m" d="M766.83 645.49L780.03 627.67"/><path fill="#66738b" d="M730.39 646.39L765.93 646.7L745.38 632.2L709.84 637.95Z"/><path class="m" d="M731.29 645.54L744.48 633.05"/><path fill="#69788e" d="M694.84 649.29L730.39 646.39L709.84 637.95L674.3 643.7Z"/><path class="m" d="M695.74 648.61L708.94 638.63"/><path fill="#636e88" d="M1106.35 598.28L1141.89 585.89L1121.34 580.29L1085.8 588.89Z"/><path class="m" d="M1107.25 597.2L1120.44 581.37"/><path fill="#525476" d="M1070.8 618.18L1106.35 598.28L1085.8 588.89L1050.26 600.7Z"/><path class="m" d="M1071.7 616.43L1084.9 590.65"/><path fill="#3c3b59" d="M1035.26 640.36L1070.8 618.18L1050.26 600.7L1014.72 613.49Z"/><path class="m" d="M1036.16 637.98L1049.36 603.08"/><path fill="#2a293d" d="M999.72 660.84L1035.26 640.36L1014.72 613.49L979.18 625.55Z"/><path class="m" d="M1000.62 658L1013.82 616.33"/><path fill="#22212f" d="M964.18 676.68L999.72 660.84L979.18 625.55L943.64 635.62Z"/><path class="m" d="M965.08 673.61L978.28 628.62"/><path fill="#1d1c26" d="M928.64 686.01L964.18 676.68L943.64 635.62L908.09 642.9Z"/><path class="m" d="M929.54 682.98L942.74 638.64"/><path fill="#22212f" d="M893.1 688.18L928.64 686.01L908.09 642.9L872.55 647.12Z"/><path class="m" d="M894 685.47L907.19 645.62"/><path fill="#2a293d" d="M857.55 683.84L893.1 688.18L872.55 647.12L837.01 648.55Z"/><path class="m" d="M858.45 681.64L871.65 649.32"/><path fill="#3c3b59" d="M822.01 674.86L857.55 683.84L837.01 648.55L801.47 647.99Z"/><path class="m" d="M822.91 673.28L836.11 650.13"/><path fill="#525476" d="M786.47 664.18L822.01 674.86L801.47 647.99L765.93 646.7Z"/><path class="m" d="M787.37 663.21L800.57 648.96"/><path fill="#636e88" d="M750.93 655.78L786.47 664.18L765.93 646.7L730.39 646.39Z"/><path class="m" d="M751.83 655.24L765.03 647.25"/><path fill="#69788e" d="M715.39 654.89L750.93 655.78L730.39 646.39L694.84 649.29Z"/><path class="m" d="M716.29 654.38L729.49 646.9"/><path fill="#606a85" d="M1126.89 605.95L1162.43 591.48L1141.89 585.89L1106.35 598.28Z"/><path class="m" d="M1127.79 604.75L1140.99 587.09"/><path fill="#4b4b6d" d="M1091.35 630.28L1126.89 605.95L1106.35 598.28L1070.8 618.18Z"/><path class="m" d="M1092.25 628.36L1105.45 600.2"/><path fill="#2f2e46" d="M1055.81 657.59L1091.35 630.28L1070.8 618.18L1035.26 640.36Z"/><path class="m" d="M1056.71 655.23L1069.9 620.55"/><path fill="#1a1921" d="M1020.26 682.69L1055.81 657.59L1035.26 640.36L999.72 660.84Z"/><path class="m" d="M1021.16 680.15L1034.36 642.9"/><path fill="#0b0b13" d="M984.72 701.69L1020.26 682.69L999.72 660.84L964.18 676.68Z"/><path class="m" d="M985.62 699.24L998.82 663.29"/><path fill="#080810" d="M949.18 712.13L984.72 701.69L964.18 676.68L928.64 686.01Z"/><path class="m" d="M950.08 710L963.28 678.81"/><path fill="#0b0b13" d="M913.64 713.19L949.18 712.13L928.64 686.01L893.1 688.18Z"/><path class="m" d="M914.54 711.55L927.74 687.64"/><path fill="#1a1921" d="M878.1 705.69L913.64 713.19L893.1 688.18L857.55 683.84Z"/><path class="m" d="M879 704.64L892.2 689.23"/><path fill="#2f2e46" d="M842.56 692.09L878.1 705.69L857.55 683.84L822.01 674.86Z"/><path class="m" d="M843.46 691.6L856.65 684.34"/><path fill="#4b4b6d" d="M807.01 676.28L842.56 692.09L822.01 674.86L786.47 664.18Z"/><path class="m" d="M807.91 676.2L821.11 674.94"/><path fill="#606a85" d="M771.47 663.45L807.01 676.28L786.47 664.18L750.93 655.78Z"/><path class="m" d="M772.37 663.5L785.57 664.14"/><path fill="#69788e" d="M735.93 660.48L771.47 663.45L750.93 655.78L715.39 654.89Z"/><path class="m" d="M736.83 660.2L750.03 656.06"/><path fill="#606a85" d="M1147.43 610.45L1182.97 597.08L1162.43 591.48L1126.89 605.95Z"/><path class="m" d="M1148.33 609.31L1161.53 592.62"/><path fill="#4f4f72" d="M1111.89 632.45L1147.43 610.45L1126.89 605.95L1091.35 630.28Z"/><path class="m" d="M1112.79 630.86L1125.99 607.54"/><path fill="#34334f" d="M1076.35 657.06L1111.89 632.45L1091.35 630.28L1055.81 657.59Z"/><path class="m" d="M1077.25 655.45L1090.45 631.89"/><path fill="#252434" d="M1040.81 679.73L1076.35 657.06L1055.81 657.59L1020.26 682.69Z"/><path class="m" d="M1041.71 678.4L1054.91 658.92"/><path fill="#17161d" d="M1005.27 697.06L1040.81 679.73L1020.26 682.69L984.72 701.69Z"/><path class="m" d="M1006.17 696.2L1019.36 683.55"/><path fill="#14131b" d="M969.73 706.91L1005.27 697.06L984.72 701.69L949.18 712.13Z"/><path class="m" d="M970.62 706.6L983.82 702"/><path fill="#17161d" d="M934.18 708.56L969.73 706.91L949.18 712.13L913.64 713.19Z"/><path class="m" d="M935.08 708.77L948.28 711.92"/><path fill="#252434" d="M898.64 702.73L934.18 708.56L913.64 713.19L878.1 705.69Z"/><path class="m" d="M899.54 703.35L912.74 712.56"/><path fill="#34334f" d="M863.1 691.56L898.64 702.73L878.1 705.69L842.56 692.09Z"/><path class="m" d="M864 692.4L877.2 704.84"/><path fill="#4f4f72" d="M827.56 678.45L863.1 691.56L842.56 692.09L807.01 676.28Z"/><path class="m" d="M828.46 679.27L841.66 691.27"/><path fill="#606a85" d="M792.02 667.95L827.56 678.45L807.01 676.28L771.47 663.45Z"/><path class="m" d="M792.92 668.45L806.11 675.78"/><path fill="#69788e" d="M756.48 666.08L792.02 667.95L771.47 663.45L735.93 660.48Z"/><path class="m" d="M757.37 665.92L770.57 663.61"/><path fill="#66738b" d="M1167.98 611.94L1203.52 602.67L1182.97 597.08L1147.43 610.45Z"/><path class="m" d="M1168.88 611.05L1182.08 597.97"/><path fill="#5d6582" d="M1132.44 625.2L1167.98 611.94L1147.43 610.45L1111.89 632.45Z"/><path class="m" d="M1133.34 624.31L1146.53 611.34"/><path fill="#555879" d="M1096.89 639.65L1132.44 625.2L1111.89 632.45L1076.35 657.06Z"/><path class="m" d="M1097.79 639.22L1110.99 632.88"/><path fill="#4b4b6d" d="M1061.35 653.22L1096.89 639.65L1076.35 657.06L1040.81 679.73Z"/><path class="m" d="M1062.25 653.45L1075.45 656.83"/><path fill="#434363" d="M1025.81 664.32L1061.35 653.22L1040.81 679.73L1005.27 697.06Z"/><path class="m" d="M1026.71 665.24L1039.91 678.8"/><path fill="#403f5e" d="M990.27 671.96L1025.81 664.32L1005.27 697.06L969.73 706.91Z"/><path class="m" d="M991.17 673.47L1004.37 695.55"/><path fill="#434363" d="M954.73 675.82L990.27 671.96L969.73 706.91L934.18 708.56Z"/><path class="m" d="M955.63 677.68L968.83 705.05"/><path fill="#4b4b6d" d="M919.19 676.22L954.73 675.82L934.18 708.56L898.64 702.73Z"/><path class="m" d="M920.09 678.16L933.28 706.62"/><path fill="#555879" d="M883.64 674.15L919.19 676.22L898.64 702.73L863.1 691.56Z"/><path class="m" d="M884.54 675.87L897.74 701.01"/><path fill="#5d6582" d="M848.1 671.2L883.64 674.15L863.1 691.56L827.56 678.45Z"/><path class="m" d="M849 672.42L862.2 690.33"/><path fill="#66738b" d="M812.56 669.44L848.1 671.2L827.56 678.45L792.02 667.95Z"/><path class="m" d="M813.46 669.98L826.66 677.91"/><path fill="#69788e" d="M777.02 671.67L812.56 669.44L792.02 667.95L756.48 666.08Z"/><path class="m" d="M777.92 671.45L791.12 668.18"/><path fill="#6d7d91" d="M1188.52 612.02L1224.06 608.26L1203.52 602.67L1167.98 611.94Z"/><path class="m" d="M1189.42 611.46L1202.62 603.23"/><path fill="#718295" d="M1152.98 613.52L1188.52 612.02L1167.98 611.94L1132.44 625.2Z"/><path class="m" d="M1153.88 613.43L1167.08 612.04"/><path fill="#798c9c" d="M1117.44 614.34L1152.98 613.52L1132.44 625.2L1096.89 639.65Z"/><path class="m" d="M1118.34 614.99L1131.54 624.54"/><path fill="#8196a3" d="M1081.9 615.67L1117.44 614.34L1096.89 639.65L1061.35 653.22Z"/><path class="m" d="M1082.8 617.11L1095.99 638.21"/><path fill="#859ba6" d="M1046.35 618.39L1081.9 615.67L1061.35 653.22L1025.81 664.32Z"/><path class="m" d="M1047.25 620.48L1060.45 651.13"/><path fill="#859ba6" d="M1010.81 623.07L1046.35 618.39L1025.81 664.32L990.27 671.96Z"/><path class="m" d="M1011.71 625.54L1024.91 661.84"/><path fill="#859ba6" d="M975.27 629.89L1010.81 623.07L990.27 671.96L954.73 675.82Z"/><path class="m" d="M976.17 632.41L989.37 669.44"/><path fill="#8196a3" d="M939.73 638.67L975.27 629.89L954.73 675.82L919.19 676.22Z"/><path class="m" d="M940.63 640.9L953.83 673.59"/><path fill="#798c9c" d="M904.19 648.84L939.73 638.67L919.19 676.22L883.64 674.15Z"/><path class="m" d="M905.09 650.48L918.29 674.57"/><path fill="#718295" d="M868.65 659.52L904.19 648.84L883.64 674.15L848.1 671.2Z"/><path class="m" d="M869.55 660.4L882.74 673.27"/><path fill="#6d7d91" d="M833.1 669.52L868.65 659.52L848.1 671.2L812.56 669.44Z"/><path class="m" d="M834 669.62L847.2 671.09"/><path fill="#69788e" d="M797.56 677.26L833.1 669.52L812.56 669.44L777.02 671.67Z"/><path class="m" d="M798.46 676.79L811.66 669.91"/><path fill="#758798" d="M1209.06 612.97L1244.61 613.86L1224.06 608.26L1188.52 612.02Z"/><path class="m" d="M1209.96 612.69L1223.16 608.55"/><path fill="#899fa9" d="M1173.52 604.59L1209.06 612.97L1188.52 612.02L1152.98 613.52Z"/><path class="m" d="M1174.42 605.04L1187.62 611.57"/><path fill="#9ebbba" d="M1137.98 593.94L1173.52 604.59L1152.98 613.52L1117.44 614.34Z"/><path class="m" d="M1138.88 595.12L1152.08 612.35"/><path fill="#c0d7d0" d="M1102.44 584.98L1137.98 593.94L1117.44 614.34L1081.9 615.67Z"/><path class="m" d="M1103.34 586.74L1116.54 612.58"/><path fill="#d0e3dd" d="M1066.9 580.66L1102.44 584.98L1081.9 615.67L1046.35 618.39Z"/><path class="m" d="M1067.8 582.76L1081 613.57"/><path fill="#daeae5" d="M1031.36 582.84L1066.9 580.66L1046.35 618.39L1010.81 623.07Z"/><path class="m" d="M1032.26 584.97L1045.45 616.26"/><path fill="#d0e3dd" d="M995.81 592.16L1031.36 582.84L1010.81 623.07L975.27 629.89Z"/><path class="m" d="M996.71 594.01L1009.91 621.21"/><path fill="#c0d7d0" d="M960.27 607.98L995.81 592.16L975.27 629.89L939.73 638.67Z"/><path class="m" d="M961.17 609.29L974.37 628.57"/><path fill="#9ebbba" d="M924.73 628.44L960.27 607.98L939.73 638.67L904.19 648.84Z"/><path class="m" d="M925.63 629.06L938.83 638.05"/><path fill="#899fa9" d="M889.19 650.59L924.73 628.44L904.19 648.84L868.65 659.52Z"/><path class="m" d="M890.09 650.49L903.29 648.95"/><path fill="#758798" d="M853.65 670.47L889.19 650.59L868.65 659.52L833.1 669.52Z"/><path class="m" d="M854.55 669.82L867.75 660.18"/><path fill="#69788e" d="M818.11 682.86L853.65 670.47L833.1 669.52L797.56 677.26Z"/><path class="m" d="M819.01 682.06L832.2 670.32"/><path fill="#758798" d="M1229.61 616.77L1265.15 619.45L1244.61 613.86L1209.06 612.97Z"/><path class="m" d="M1230.51 616.59L1243.71 614.03"/><path fill="#90a9af" d="M1194.07 604.55L1229.61 616.77L1209.06 612.97L1173.52 604.59Z"/><path class="m" d="M1194.97 605.05L1208.16 612.47"/><path fill="#b4cfc8" d="M1158.53 589.45L1194.07 604.55L1173.52 604.59L1137.98 593.94Z"/><path class="m" d="M1159.42 590.35L1172.62 603.68"/><path fill="#daeae5" d="M1122.98 576.48L1158.53 589.45L1137.98 593.94L1102.44 584.98Z"/><path class="m" d="M1123.88 577.53L1137.08 592.9"/><path fill="#f9fcfb" d="M1087.44 569.43L1122.98 576.48L1102.44 584.98L1066.9 580.66Z"/><path class="m" d="M1088.34 570.36L1101.54 584.05"/><path fill="#ffffff" d="M1051.9 570.64L1087.44 569.43L1066.9 580.66L1031.36 582.84Z"/><path class="m" d="M1052.8 571.24L1066 580.06"/><path fill="#f9fcfb" d="M1016.36 580.93L1051.9 570.64L1031.36 582.84L995.81 592.16Z"/><path class="m" d="M1017.26 581.04L1030.46 582.72"/><path fill="#daeae5" d="M980.82 599.48L1016.36 580.93L995.81 592.16L960.27 607.98Z"/><path class="m" d="M981.72 599.04L994.91 592.6"/><path fill="#b4cfc8" d="M945.27 623.95L980.82 599.48L960.27 607.98L924.73 628.44Z"/><path class="m" d="M946.17 622.99L959.37 608.94"/><path fill="#90a9af" d="M909.73 650.55L945.27 623.95L924.73 628.44L889.19 650.59Z"/><path class="m" d="M910.63 649.22L923.83 629.77"/><path fill="#758798" d="M874.19 674.27L909.73 650.55L889.19 650.59L853.65 670.47Z"/><path class="m" d="M875.09 672.84L888.29 652.01"/><path fill="#69788e" d="M838.65 688.45L874.19 674.27L853.65 670.47L818.11 682.86Z"/><path class="m" d="M839.55 687.37L852.75 671.55"/><path fill="#758798" d="M1250.15 624.16L1285.69 625.04L1265.15 619.45L1229.61 616.77Z"/><path class="m" d="M1251.05 623.88L1264.25 619.73"/><path fill="#899fa9" d="M1214.61 615.78L1250.15 624.16L1229.61 616.77L1194.07 604.55Z"/><path class="m" d="M1215.51 615.84L1228.71 616.71"/><path fill="#9ebbba" d="M1179.07 605.13L1214.61 615.78L1194.07 604.55L1158.53 589.45Z"/><path class="m" d="M1179.97 605.1L1193.17 604.58"/><path fill="#c0d7d0" d="M1143.53 596.17L1179.07 605.13L1158.53 589.45L1122.98 576.48Z"/><path class="m" d="M1144.43 595.76L1157.63 589.85"/><path fill="#d0e3dd" d="M1107.99 591.84L1143.53 596.17L1122.98 576.48L1087.44 569.43Z"/><path class="m" d="M1108.89 590.92L1122.08 577.41"/><path fill="#daeae5" d="M1072.44 594.02L1107.99 591.84L1087.44 569.43L1051.9 570.64Z"/><path class="m" d="M1073.34 592.55L1086.54 570.9"/><path fill="#d0e3dd" d="M1036.9 603.34L1072.44 594.02L1051.9 570.64L1016.36 580.93Z"/><path class="m" d="M1037.8 601.38L1051 572.6"/><path fill="#c0d7d0" d="M1001.36 619.17L1036.9 603.34L1016.36 580.93L980.82 599.48Z"/><path class="m" d="M1002.26 616.87L1015.46 583.22"/><path fill="#9ebbba" d="M965.82 639.63L1001.36 619.17L980.82 599.48L945.27 623.95Z"/><path class="m" d="M966.72 637.22L979.92 601.89"/><path fill="#899fa9" d="M930.28 661.78L965.82 639.63L945.27 623.95L909.73 650.55Z"/><path class="m" d="M931.18 659.51L944.38 626.22"/><path fill="#758798" d="M894.74 681.66L930.28 661.78L909.73 650.55L874.19 674.27Z"/><path class="m" d="M895.64 679.79L908.83 652.41"/><path fill="#69788e" d="M859.19 694.04L894.74 681.66L874.19 674.27L838.65 688.45Z"/><path class="m" d="M860.09 692.86L873.29 675.45"/><path fill="#6d7d91" d="M1270.7 634.39L1306.24 630.64L1285.69 625.04L1250.15 624.16Z"/><path class="m" d="M1271.6 633.83L1284.79 625.6"/><path fill="#718295" d="M1235.15 635.9L1270.7 634.39L1250.15 624.16L1214.61 615.78Z"/><path class="m" d="M1236.05 635.19L1249.25 624.86"/><path fill="#798c9c" d="M1199.61 636.72L1235.15 635.9L1214.61 615.78L1179.07 605.13Z"/><path class="m" d="M1200.51 635.46L1213.71 617.04"/><path fill="#8196a3" d="M1164.07 638.04L1199.61 636.72L1179.07 605.13L1143.53 596.17Z"/><path class="m" d="M1164.97 636.07L1178.17 607.11"/><path fill="#859ba6" d="M1128.53 640.76L1164.07 638.04L1143.53 596.17L1107.99 591.84Z"/><path class="m" d="M1129.43 638.09L1142.63 598.84"/><path fill="#859ba6" d="M1092.99 645.44L1128.53 640.76L1107.99 591.84L1072.44 594.02Z"/><path class="m" d="M1093.89 642.22L1107.09 595.06"/><path fill="#859ba6" d="M1057.45 652.26L1092.99 645.44L1072.44 594.02L1036.9 603.34Z"/><path class="m" d="M1058.35 648.77L1071.54 597.52"/><path fill="#8196a3" d="M1021.9 661.04L1057.45 652.26L1036.9 603.34L1001.36 619.17Z"/><path class="m" d="M1022.8 657.58L1036 606.81"/><path fill="#798c9c" d="M986.36 671.22L1021.9 661.04L1001.36 619.17L965.82 639.63Z"/><path class="m" d="M987.26 668.09L1000.46 622.29"/><path fill="#718295" d="M950.82 681.9L986.36 671.22L965.82 639.63L930.28 661.78Z"/><path class="m" d="M951.72 679.36L964.92 642.17"/><path fill="#6d7d91" d="M915.28 691.89L950.82 681.9L930.28 661.78L894.74 681.66Z"/><path class="m" d="M916.18 690.09L929.38 663.59"/><path fill="#69788e" d="M879.74 699.64L915.28 691.89L894.74 681.66L859.19 694.04Z"/><path class="m" d="M880.64 698.56L893.84 682.74"/><path fill="#66738b" d="M1291.24 645.5L1326.78 636.23L1306.24 630.64L1270.7 634.39Z"/><path class="m" d="M1292.14 644.61L1305.34 631.53"/><path fill="#5d6582" d="M1255.7 658.76L1291.24 645.5L1270.7 634.39L1235.15 635.9Z"/><path class="m" d="M1256.6 657.3L1269.8 635.86"/><path fill="#555879" d="M1220.16 673.22L1255.7 658.76L1235.15 635.9L1199.61 636.72Z"/><path class="m" d="M1221.06 670.98L1234.25 638.13"/><path fill="#4b4b6d" d="M1184.61 686.78L1220.16 673.22L1199.61 636.72L1164.07 638.04Z"/><path class="m" d="M1185.51 683.78L1198.71 639.72"/><path fill="#434363" d="M1149.07 697.88L1184.61 686.78L1164.07 638.04L1128.53 640.76Z"/><path class="m" d="M1149.97 694.29L1163.17 641.63"/><path fill="#403f5e" d="M1113.53 705.52L1149.07 697.88L1128.53 640.76L1092.99 645.44Z"/><path class="m" d="M1114.43 701.64L1127.63 644.65"/><path fill="#434363" d="M1077.99 709.38L1113.53 705.52L1092.99 645.44L1057.45 652.26Z"/><path class="m" d="M1078.89 705.54L1092.09 649.28"/><path fill="#4b4b6d" d="M1042.45 709.78L1077.99 709.38L1057.45 652.26L1021.9 661.04Z"/><path class="m" d="M1043.35 706.33L1056.55 655.71"/><path fill="#555879" d="M1006.91 707.72L1042.45 709.78L1021.9 661.04L986.36 671.22Z"/><path class="m" d="M1007.81 704.92L1021 663.84"/><path fill="#5d6582" d="M971.36 704.76L1006.91 707.72L986.36 671.22L950.82 681.9Z"/><path class="m" d="M972.26 702.75L985.46 673.23"/><path fill="#66738b" d="M935.82 703L971.36 704.76L950.82 681.9L915.28 691.89Z"/><path class="m" d="M936.72 701.74L949.92 683.16"/><path fill="#69788e" d="M900.28 705.23L935.82 703L915.28 691.89L879.74 699.64Z"/><path class="m" d="M901.18 704.43L914.38 692.69"/><path fill="#606a85" d="M1311.78 655.2L1347.33 641.83L1326.78 636.23L1291.24 645.5Z"/><path class="m" d="M1312.68 654.06L1325.88 637.37"/><path fill="#4f4f72" d="M1276.24 677.2L1311.78 655.2L1291.24 645.5L1255.7 658.76Z"/><path class="m" d="M1277.14 675.3L1290.34 647.41"/><path fill="#34334f" d="M1240.7 701.81L1276.24 677.2L1255.7 658.76L1220.16 673.22Z"/><path class="m" d="M1241.6 699.22L1254.8 661.34"/><path fill="#252434" d="M1205.16 724.48L1240.7 701.81L1220.16 673.22L1184.61 686.78Z"/><path class="m" d="M1206.06 721.4L1219.26 676.29"/><path fill="#17161d" d="M1169.62 741.81L1205.16 724.48L1184.61 686.78L1149.07 697.88Z"/><path class="m" d="M1170.52 738.51L1183.71 690.08"/><path fill="#14131b" d="M1134.08 751.66L1169.62 741.81L1149.07 697.88L1113.53 705.52Z"/><path class="m" d="M1134.97 748.44L1148.17 701.11"/><path fill="#17161d" d="M1098.53 753.31L1134.08 751.66L1113.53 705.52L1077.99 709.38Z"/><path class="m" d="M1099.43 750.44L1112.63 708.39"/><path fill="#252434" d="M1062.99 747.48L1098.53 753.31L1077.99 709.38L1042.45 709.78Z"/><path class="m" d="M1063.89 745.19L1077.09 711.66"/><path fill="#34334f" d="M1027.45 736.31L1062.99 747.48L1042.45 709.78L1006.91 707.72Z"/><path class="m" d="M1028.35 734.71L1041.55 711.37"/><path fill="#4f4f72" d="M991.91 723.2L1027.45 736.31L1006.91 707.72L971.36 704.76Z"/><path class="m" d="M992.81 722.27L1006.01 708.64"/><path fill="#606a85" d="M956.37 712.7L991.91 723.2L971.36 704.76L935.82 703Z"/><path class="m" d="M957.27 712.23L970.46 705.23"/><path fill="#69788e" d="M920.83 710.83L956.37 712.7L935.82 703L900.28 705.23Z"/><path class="m" d="M921.72 710.36L934.92 703.47"/><path fill="#606a85" d="M1332.33 661.89L1367.87 647.42L1347.33 641.83L1311.78 655.2Z"/><path class="m" d="M1333.23 660.69L1346.43 643.03"/><path fill="#4b4b6d" d="M1296.79 686.22L1332.33 661.89L1311.78 655.2L1276.24 677.2Z"/><path class="m" d="M1297.69 684.36L1310.88 657.06"/><path fill="#2f2e46" d="M1261.24 713.53L1296.79 686.22L1276.24 677.2L1240.7 701.81Z"/><path class="m" d="M1262.14 711.35L1275.34 679.38"/><path fill="#1a1921" d="M1225.7 738.63L1261.24 713.53L1240.7 701.81L1205.16 724.48Z"/><path class="m" d="M1226.6 736.42L1239.8 704.02"/><path fill="#0b0b13" d="M1190.16 757.62L1225.7 738.63L1205.16 724.48L1169.62 741.81Z"/><path class="m" d="M1191.06 755.63L1204.26 726.47"/><path fill="#080810" d="M1154.62 768.07L1190.16 757.62L1169.62 741.81L1134.08 751.66Z"/><path class="m" d="M1155.52 766.49L1168.72 743.38"/><path fill="#0b0b13" d="M1119.08 769.12L1154.62 768.07L1134.08 751.66L1098.53 753.31Z"/><path class="m" d="M1119.98 768.08L1133.18 752.71"/><path fill="#1a1921" d="M1083.54 761.63L1119.08 769.12L1098.53 753.31L1062.99 747.48Z"/><path class="m" d="M1084.44 761.13L1097.63 753.81"/><path fill="#2f2e46" d="M1047.99 748.03L1083.54 761.63L1062.99 747.48L1027.45 736.31Z"/><path class="m" d="M1048.89 748L1062.09 747.51"/><path fill="#4b4b6d" d="M1012.45 732.22L1047.99 748.03L1027.45 736.31L991.91 723.2Z"/><path class="m" d="M1013.35 732.47L1026.55 736.06"/><path fill="#606a85" d="M976.91 719.39L1012.45 732.22L991.91 723.2L956.37 712.7Z"/><path class="m" d="M977.81 719.62L991.01 722.97"/><path fill="#69788e" d="M941.37 716.42L976.91 719.39L956.37 712.7L920.83 710.83Z"/><path class="m" d="M942.27 716.2L955.47 712.93"/><path fill="#636e88" d="M1352.87 665.41L1388.41 653.01L1367.87 647.42L1332.33 661.89Z"/><path class="m" d="M1353.77 664.33L1366.97 648.5"/><path fill="#525476" d="M1317.33 685.31L1352.87 665.41L1332.33 661.89L1296.79 686.22Z"/><path class="m" d="M1318.23 683.9L1331.43 663.3"/><path fill="#3c3b59" d="M1281.79 707.48L1317.33 685.31L1296.79 686.22L1261.24 713.53Z"/><path class="m" d="M1282.69 706.21L1295.89 687.5"/><path fill="#2a293d" d="M1246.25 727.97L1281.79 707.48L1261.24 713.53L1225.7 738.63Z"/><path class="m" d="M1247.15 727.1L1260.34 714.4"/><path fill="#22212f" d="M1210.7 743.81L1246.25 727.97L1225.7 738.63L1190.16 757.62Z"/><path class="m" d="M1211.6 743.5L1224.8 738.94"/><path fill="#1d1c26" d="M1175.16 753.13L1210.7 743.81L1190.16 757.62L1154.62 768.07Z"/><path class="m" d="M1176.06 753.4L1189.26 757.35"/><path fill="#22212f" d="M1139.62 755.31L1175.16 753.13L1154.62 768.07L1119.08 769.12Z"/><path class="m" d="M1140.52 756.07L1153.72 767.3"/><path fill="#2a293d" d="M1104.08 750.97L1139.62 755.31L1119.08 769.12L1083.54 761.63Z"/><path class="m" d="M1104.98 752.06L1118.18 768.03"/><path fill="#3c3b59" d="M1068.54 741.98L1104.08 750.97L1083.54 761.63L1047.99 748.03Z"/><path class="m" d="M1069.44 743.16L1082.64 760.45"/><path fill="#525476" d="M1033 731.31L1068.54 741.98L1047.99 748.03L1012.45 732.22Z"/><path class="m" d="M1033.9 732.31L1047.09 747.03"/><path fill="#636e88" d="M997.45 722.91L1033 731.31L1012.45 732.22L976.91 719.39Z"/><path class="m" d="M998.35 723.46L1011.55 731.66"/><path fill="#69788e" d="M961.91 722.01L997.45 722.91L976.91 719.39L941.37 716.42Z"/><path class="m" d="M962.81 721.86L976.01 719.55"/><path fill="#66738b" d="M1373.41 667.2L1408.96 658.61L1388.41 653.01L1352.87 665.41Z"/><path class="m" d="M1374.31 666.35L1387.51 653.86"/><path fill="#606a85" d="M1337.87 679.01L1373.41 667.2L1352.87 665.41L1317.33 685.31Z"/><path class="m" d="M1338.77 678.2L1351.97 666.22"/><path fill="#585d7c" d="M1302.33 691.8L1337.87 679.01L1317.33 685.31L1281.79 707.48Z"/><path class="m" d="M1303.23 691.41L1316.43 685.7"/><path fill="#525476" d="M1266.79 703.86L1302.33 691.8L1281.79 707.48L1246.25 727.97Z"/><path class="m" d="M1267.69 704.08L1280.89 707.26"/><path fill="#4b4b6d" d="M1231.25 713.93L1266.79 703.86L1246.25 727.97L1210.7 743.81Z"/><path class="m" d="M1232.15 714.78L1245.35 727.13"/><path fill="#474768" d="M1195.71 721.22L1231.25 713.93L1210.7 743.81L1175.16 753.13Z"/><path class="m" d="M1196.61 722.57L1209.8 742.45"/><path fill="#4b4b6d" d="M1160.16 725.43L1195.71 721.22L1175.16 753.13L1139.62 755.31Z"/><path class="m" d="M1161.06 727.1L1174.26 751.47"/><path fill="#525476" d="M1124.62 726.86L1160.16 725.43L1139.62 755.31L1104.08 750.97Z"/><path class="m" d="M1125.52 728.57L1138.72 753.6"/><path fill="#585d7c" d="M1089.08 726.3L1124.62 726.86L1104.08 750.97L1068.54 741.98Z"/><path class="m" d="M1089.98 727.78L1103.18 749.49"/><path fill="#606a85" d="M1053.54 725.01L1089.08 726.3L1068.54 741.98L1033 731.31Z"/><path class="m" d="M1054.44 726.03L1067.64 740.96"/><path fill="#66738b" d="M1018 724.7L1053.54 725.01L1033 731.31L997.45 722.91Z"/><path class="m" d="M1018.9 725.1L1032.1 730.91"/><path fill="#69788e" d="M982.46 727.61L1018 724.7L997.45 722.91L961.91 722.01Z"/><path class="m" d="M983.36 727.32L996.55 723.19"/><path fill="#69788e" d="M1393.96 669.95L1429.5 664.2L1408.96 658.61L1373.41 667.2Z"/><path class="m" d="M1394.86 669.27L1408.06 659.29"/><path fill="#69788e" d="M1358.42 675.7L1393.96 669.95L1373.41 667.2L1337.87 679.01Z"/><path class="m" d="M1359.32 675.19L1372.51 667.71"/><path fill="#69788e" d="M1322.88 681.45L1358.42 675.7L1337.87 679.01L1302.33 691.8Z"/><path class="m" d="M1323.77 681.3L1336.97 679.16"/><path fill="#69788e" d="M1287.33 687.2L1322.88 681.45L1302.33 691.8L1266.79 703.86Z"/><path class="m" d="M1288.23 687.48L1301.43 691.52"/><path fill="#69788e" d="M1251.79 692.95L1287.33 687.2L1266.79 703.86L1231.25 713.93Z"/><path class="m" d="M1252.69 693.6L1265.89 703.21"/><path fill="#69788e" d="M1216.25 698.7L1251.79 692.95L1231.25 713.93L1195.71 721.22Z"/><path class="m" d="M1217.15 699.61L1230.35 713.02"/><path fill="#69788e" d="M1180.71 704.45L1216.25 698.7L1195.71 721.22L1160.16 725.43Z"/><path class="m" d="M1181.61 705.46L1194.81 720.21"/><path fill="#69788e" d="M1145.17 710.2L1180.71 704.45L1160.16 725.43L1124.62 726.86Z"/><path class="m" d="M1146.07 711.11L1159.26 724.52"/><path fill="#69788e" d="M1109.62 715.95L1145.17 710.2L1124.62 726.86L1089.08 726.3Z"/><path class="m" d="M1110.52 716.6L1123.72 726.21"/><path fill="#69788e" d="M1074.08 721.7L1109.62 715.95L1089.08 726.3L1053.54 725.01Z"/><path class="m" d="M1074.98 721.98L1088.18 726.02"/><path fill="#69788e" d="M1038.54 727.45L1074.08 721.7L1053.54 725.01L1018 724.7Z"/><path class="m" d="M1039.44 727.3L1052.64 725.16"/><path fill="#69788e" d="M1003 733.2L1038.54 727.45L1018 724.7L982.46 727.61Z"/><path class="m" d="M1003.9 732.69L1017.1 725.21"/></g></g>
<g filter="url(#bt)"><text class="t" x="655.6" y="760.27" text-anchor="middle">1</text><text class="t" x="714.5" y="778.47" text-anchor="middle">0.8</text><text class="t" x="780.2" y="796.97" text-anchor="middle">0.6</text><text class="t" x="845.8" y="814.97" text-anchor="middle">0.4</text><text class="t" x="911.4" y="832.97" text-anchor="middle">0.2</text><text class="t" x="984.4" y="850.37" text-anchor="middle">0</text><text class="t" x="1016.6" y="851.47" text-anchor="start">0</text><text class="t" x="1101.9" y="837.67" text-anchor="start">0.2</text><text class="t" x="1187.2" y="823.87" text-anchor="start">0.4</text><text class="t" x="1272.5" y="810.07" text-anchor="start">0.6</text><text class="t" x="1357.8" y="796.27" text-anchor="start">0.8</text><text class="t" x="1444.3" y="782.47" text-anchor="start">1</text><text class="t" x="657.5" y="744.47" text-anchor="end">-5</text><text class="t" x="660.8" y="647.07" text-anchor="end">0</text><text class="t" x="660.8" y="549.67" text-anchor="end">5</text><text class="sans" x="802.7" y="823.8" text-anchor="middle">[L/y]</text><text class="sans" x="1247.1" y="832.5" text-anchor="middle">[C/x]</text><text class="l" transform="translate(632.3 643.4) rotate(-90)" text-anchor="middle">Normalized Amplitude</text><text class="l ti" x="1052.4" y="462.6" text-anchor="middle">Mode 3</text></g></g>
</svg>
</body></html>
